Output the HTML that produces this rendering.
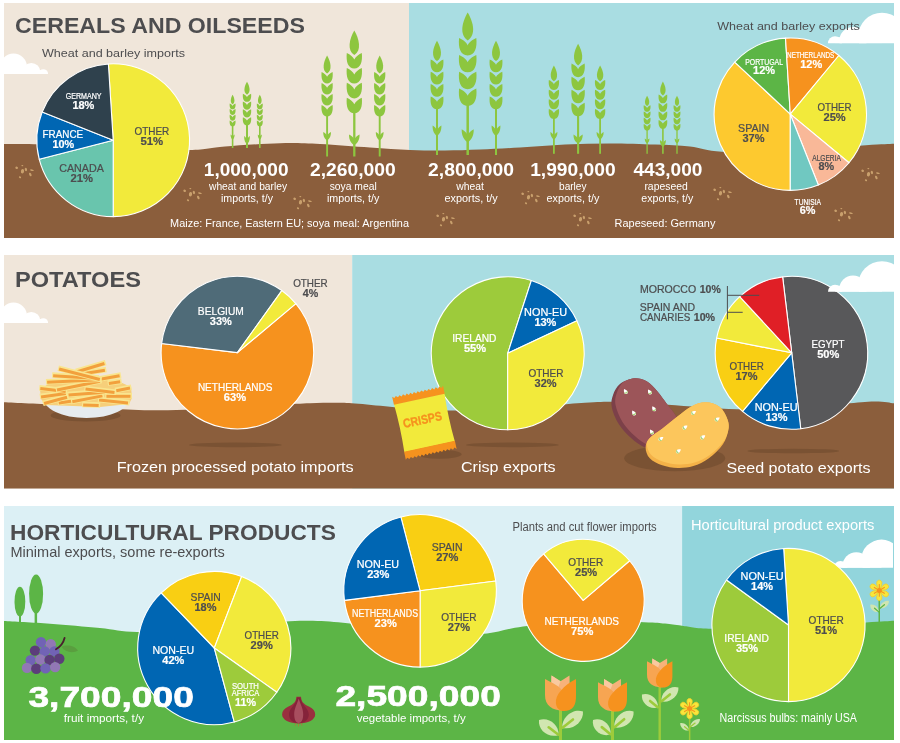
<!DOCTYPE html>
<html lang="en"><head><meta charset="utf-8"><title>Cereals, potatoes and horticultural products</title>
<style>html,body{margin:0;padding:0;background:#fff}svg{display:block;will-change:transform;transform:translateZ(0)}text{font-family:"Liberation Sans", Arial, sans-serif}</style></head><body>
<svg width="900" height="743" viewBox="0 0 900 743">
<rect width="900" height="743" fill="#fff"/>
<defs>
<clipPath id="p1"><rect x="4" y="3" width="890" height="235"/></clipPath>
<clipPath id="p2"><rect x="4" y="255" width="890" height="233.5"/></clipPath>
<clipPath id="p3"><rect x="4" y="506" width="890" height="234"/></clipPath>
</defs>
<g clip-path="url(#p1)">
<rect x="4" y="3" width="405" height="235" fill="#f0e6da"/>
<rect x="409" y="3" width="485" height="235" fill="#a9dde2"/>
<clipPath id="c1"><rect x="4" y="52.5" width="56" height="21.5"/></clipPath>
<g fill="#fff" clip-path="url(#c1)">
<circle cx="13.5" cy="67" r="13.5"/>
<circle cx="31.3" cy="72" r="9.1"/>
<circle cx="43.3" cy="74" r="4.8"/>
<rect x="13.5" y="70.2" width="29.8" height="3.8"/>
</g>
<clipPath id="c2"><rect x="820" y="11.7" width="74" height="31.5"/></clipPath>
<g fill="#fff" clip-path="url(#c2)">
<circle cx="882" cy="36.6" r="23.9"/>
<circle cx="853" cy="40.7" r="13.7"/>
<circle cx="835" cy="43.2" r="7"/>
<rect x="835.0" y="37.2" width="47.0" height="6.0"/>
</g>
<path d="M4.0,144.0 C10.0,144.1 22.3,143.7 40.0,144.3 C57.7,144.9 85.2,146.6 110.0,147.5 C134.8,148.4 169.8,150.2 189.0,150.0 C208.2,149.8 209.8,147.6 225.0,146.5 C240.2,145.4 264.2,143.6 280.0,143.2 C295.8,142.8 305.0,143.3 320.0,144.0 C335.0,144.7 355.0,146.5 370.0,147.5 C385.0,148.5 397.5,149.5 410.0,150.0 C422.5,150.5 433.3,150.6 445.0,150.5 C456.7,150.4 467.5,150.0 480.0,149.5 C492.5,149.0 505.8,148.3 520.0,147.5 C534.2,146.7 550.0,145.2 565.0,144.5 C580.0,143.8 595.0,143.5 610.0,143.5 C625.0,143.5 641.7,144.1 655.0,144.6 C668.3,145.1 678.8,145.4 690.0,146.6 C701.2,147.8 705.3,151.1 722.0,151.8 C738.7,152.5 766.0,152.1 790.0,151.0 C814.0,149.9 848.7,146.5 866.0,145.3 C883.3,144.1 889.3,144.1 894.0,143.8 L894,238 L4,238Z" fill="#8b5e3c"/>
<g fill="#8dc63f">
<rect x="231.80" y="124.3" width="1.60" height="23.7"/>
<path d="M232.60,94.70 C234.53,98.02 235.50,102.28 232.60,104.18 C229.70,102.28 230.67,98.02 232.60,94.70Z"/>
<path d="M229.70,103.39 C231.00,103.99 232.25,104.94 232.60,105.89 C232.95,104.94 234.19,103.99 235.50,103.39 C235.85,106.67 235.06,109.35 232.60,109.35 C230.13,109.35 229.35,106.67 229.70,103.39Z"/>
<path d="M229.70,109.12 C231.00,109.71 232.25,110.67 232.60,111.62 C232.95,110.67 234.19,109.71 235.50,109.12 C235.85,112.39 235.06,115.07 232.60,115.07 C230.13,115.07 229.35,112.39 229.70,109.12Z"/>
<path d="M229.70,114.84 C231.00,115.44 232.25,116.39 232.60,117.35 C232.95,116.39 234.19,115.44 235.50,114.84 C235.85,118.12 235.06,120.80 232.60,120.80 C230.13,120.80 229.35,118.12 229.70,114.84Z"/>
<path d="M229.70,120.57 C231.00,121.17 232.25,122.12 232.60,123.07 C232.95,122.12 234.19,121.17 235.50,120.57 C235.85,123.85 235.06,126.53 232.60,126.53 C230.13,126.53 229.35,123.85 229.70,120.57Z"/>
<path d="M230.57,134.60 C231.48,135.21 232.40,136.13 232.60,137.15 C232.80,136.13 233.72,135.21 234.63,134.60 C234.73,137.41 233.61,138.94 232.60,139.70 C231.59,138.94 230.47,137.41 230.57,134.60Z"/>
</g>
<g fill="#8dc63f">
<rect x="246.00" y="123.0" width="2.00" height="25.0"/>
<path d="M247.00,81.80 C249.73,86.34 251.10,92.17 247.00,94.76 C242.90,92.17 244.27,86.34 247.00,81.80Z"/>
<path d="M242.90,93.68 C244.75,94.49 246.51,95.80 247.00,97.10 C247.49,95.80 249.25,94.49 251.10,93.68 C251.59,98.16 250.49,101.82 247.00,101.82 C243.51,101.82 242.41,98.16 242.90,93.68Z"/>
<path d="M242.90,101.51 C244.75,102.32 246.51,103.63 247.00,104.93 C247.49,103.63 249.25,102.32 251.10,101.51 C251.59,105.99 250.49,109.65 247.00,109.65 C243.51,109.65 242.41,105.99 242.90,101.51Z"/>
<path d="M242.90,109.34 C244.75,110.15 246.51,111.46 247.00,112.76 C247.49,111.46 249.25,110.15 251.10,109.34 C251.59,113.82 250.49,117.48 247.00,117.48 C243.51,117.48 242.41,113.82 242.90,109.34Z"/>
<path d="M242.90,117.17 C244.75,117.98 246.51,119.29 247.00,120.59 C247.49,119.29 249.25,117.98 251.10,117.17 C251.59,121.65 250.49,125.31 247.00,125.31 C243.51,125.31 242.41,121.65 242.90,117.17Z"/>
<path d="M244.13,135.90 C245.42,136.90 246.71,138.39 247.00,140.05 C247.29,138.39 248.58,136.90 249.87,135.90 C250.01,140.47 248.44,142.95 247.00,144.20 C245.56,142.95 243.99,140.47 244.13,135.90Z"/>
</g>
<g fill="#8dc63f">
<rect x="259.00" y="124.3" width="1.60" height="23.7"/>
<path d="M259.80,94.70 C261.73,98.02 262.70,102.28 259.80,104.18 C256.90,102.28 257.87,98.02 259.80,94.70Z"/>
<path d="M256.90,103.39 C258.20,103.99 259.45,104.94 259.80,105.89 C260.15,104.94 261.40,103.99 262.70,103.39 C263.05,106.67 262.26,109.35 259.80,109.35 C257.34,109.35 256.55,106.67 256.90,103.39Z"/>
<path d="M256.90,109.12 C258.20,109.71 259.45,110.67 259.80,111.62 C260.15,110.67 261.40,109.71 262.70,109.12 C263.05,112.39 262.26,115.07 259.80,115.07 C257.34,115.07 256.55,112.39 256.90,109.12Z"/>
<path d="M256.90,114.84 C258.20,115.44 259.45,116.39 259.80,117.35 C260.15,116.39 261.40,115.44 262.70,114.84 C263.05,118.12 262.26,120.80 259.80,120.80 C257.34,120.80 256.55,118.12 256.90,114.84Z"/>
<path d="M256.90,120.57 C258.20,121.17 259.45,122.12 259.80,123.07 C260.15,122.12 261.40,121.17 262.70,120.57 C263.05,123.85 262.26,126.53 259.80,126.53 C257.34,126.53 256.55,123.85 256.90,120.57Z"/>
<path d="M257.77,134.60 C258.68,135.21 259.60,136.13 259.80,137.15 C260.00,136.13 260.92,135.21 261.83,134.60 C261.93,137.41 260.81,138.94 259.80,139.70 C258.79,138.94 257.67,137.41 257.77,134.60Z"/>
</g>
<g fill="#8dc63f">
<rect x="326.15" y="114.0" width="1.90" height="42.5"/>
<path d="M327.10,55.40 C330.76,61.76 332.59,69.94 327.10,73.58 C321.61,69.94 323.44,61.76 327.10,55.40Z"/>
<path d="M321.60,72.06 C324.08,73.21 326.44,75.04 327.10,76.86 C327.76,75.04 330.12,73.21 332.60,72.06 C333.26,78.35 331.78,83.49 327.10,83.49 C322.43,83.49 320.94,78.35 321.60,72.06Z"/>
<path d="M321.60,83.05 C324.08,84.19 326.44,86.02 327.10,87.85 C327.76,86.02 330.12,84.19 332.60,83.05 C333.26,89.33 331.78,94.47 327.10,94.47 C322.43,94.47 320.94,89.33 321.60,83.05Z"/>
<path d="M321.60,94.03 C324.08,95.17 326.44,97.00 327.10,98.83 C327.76,97.00 330.12,95.17 332.60,94.03 C333.26,100.32 331.78,105.46 327.10,105.46 C322.43,105.46 320.94,100.32 321.60,94.03Z"/>
<path d="M321.60,105.02 C324.08,106.16 326.44,107.99 327.10,109.81 C327.76,107.99 330.12,106.16 332.60,105.02 C333.26,111.30 331.78,116.44 327.10,116.44 C322.43,116.44 320.94,111.30 321.60,105.02Z"/>
<path d="M323.25,132.00 C324.98,133.02 326.72,134.55 327.10,136.25 C327.49,134.55 329.22,133.02 330.95,132.00 C331.14,136.68 329.03,139.22 327.10,140.50 C325.18,139.22 323.06,136.68 323.25,132.00Z"/>
</g>
<g fill="#8dc63f">
<rect x="353.15" y="110.7" width="2.30" height="45.8"/>
<path d="M354.30,30.40 C359.30,39.04 361.79,50.15 354.30,55.09 C346.81,50.15 349.31,39.04 354.30,30.40Z"/>
<path d="M346.80,53.03 C350.18,54.58 353.40,57.07 354.30,59.55 C355.20,57.07 358.43,54.58 361.80,53.03 C362.70,61.56 360.68,68.55 354.30,68.55 C347.93,68.55 345.90,61.56 346.80,53.03Z"/>
<path d="M346.80,67.95 C350.18,69.50 353.40,71.98 354.30,74.47 C355.20,71.98 358.43,69.50 361.80,67.95 C362.70,76.48 360.68,83.46 354.30,83.46 C347.93,83.46 345.90,76.48 346.80,67.95Z"/>
<path d="M346.80,82.87 C350.18,84.42 353.40,86.90 354.30,89.38 C355.20,86.90 358.43,84.42 361.80,82.87 C362.70,91.40 360.68,98.38 354.30,98.38 C347.93,98.38 345.90,91.40 346.80,82.87Z"/>
<path d="M346.80,97.78 C350.18,99.33 353.40,101.82 354.30,104.30 C355.20,101.82 358.43,99.33 361.80,97.78 C362.70,106.32 360.68,113.30 354.30,113.30 C347.93,113.30 345.90,106.32 346.80,97.78Z"/>
<path d="M349.05,134.50 C351.41,135.78 353.78,137.71 354.30,139.85 C354.82,137.71 357.19,135.78 359.55,134.50 C359.81,140.38 356.93,143.59 354.30,145.20 C351.68,143.59 348.79,140.38 349.05,134.50Z"/>
</g>
<g fill="#8dc63f">
<rect x="378.75" y="114.0" width="1.90" height="42.5"/>
<path d="M379.70,55.40 C383.36,61.76 385.19,69.94 379.70,73.58 C374.21,69.94 376.04,61.76 379.70,55.40Z"/>
<path d="M374.20,72.06 C376.68,73.21 379.04,75.04 379.70,76.86 C380.36,75.04 382.72,73.21 385.20,72.06 C385.86,78.35 384.38,83.49 379.70,83.49 C375.02,83.49 373.54,78.35 374.20,72.06Z"/>
<path d="M374.20,83.05 C376.68,84.19 379.04,86.02 379.70,87.85 C380.36,86.02 382.72,84.19 385.20,83.05 C385.86,89.33 384.38,94.47 379.70,94.47 C375.02,94.47 373.54,89.33 374.20,83.05Z"/>
<path d="M374.20,94.03 C376.68,95.17 379.04,97.00 379.70,98.83 C380.36,97.00 382.72,95.17 385.20,94.03 C385.86,100.32 384.38,105.46 379.70,105.46 C375.02,105.46 373.54,100.32 374.20,94.03Z"/>
<path d="M374.20,105.02 C376.68,106.16 379.04,107.99 379.70,109.81 C380.36,107.99 382.72,106.16 385.20,105.02 C385.86,111.30 384.38,116.44 379.70,116.44 C375.02,116.44 373.54,111.30 374.20,105.02Z"/>
<path d="M375.85,132.00 C377.58,133.02 379.31,134.55 379.70,136.25 C380.08,134.55 381.82,133.02 383.55,132.00 C383.74,136.68 381.62,139.22 379.70,140.50 C377.77,139.22 375.66,136.68 375.85,132.00Z"/>
</g>
<g fill="#8dc63f">
<rect x="436.00" y="106.7" width="2.00" height="48.3"/>
<path d="M437.00,40.70 C441.20,47.84 443.29,57.02 437.00,61.10 C430.71,57.02 432.80,47.84 437.00,40.70Z"/>
<path d="M430.70,59.40 C433.54,60.68 436.24,62.73 437.00,64.78 C437.76,62.73 440.46,60.68 443.30,59.40 C444.06,66.45 442.36,72.22 437.00,72.22 C431.64,72.22 429.94,66.45 430.70,59.40Z"/>
<path d="M430.70,71.73 C433.54,73.01 436.24,75.06 437.00,77.11 C437.76,75.06 440.46,73.01 443.30,71.73 C444.06,78.77 442.36,84.54 437.00,84.54 C431.64,84.54 429.94,78.77 430.70,71.73Z"/>
<path d="M430.70,84.05 C433.54,85.33 436.24,87.38 437.00,89.43 C437.76,87.38 440.46,85.33 443.30,84.05 C444.06,91.10 442.36,96.87 437.00,96.87 C431.64,96.87 429.94,91.10 430.70,84.05Z"/>
<path d="M430.70,96.38 C433.54,97.66 436.24,99.71 437.00,101.76 C437.76,99.71 440.46,97.66 443.30,96.38 C444.06,103.42 442.36,109.19 437.00,109.19 C431.64,109.19 429.94,103.42 430.70,96.38Z"/>
<path d="M432.59,125.40 C434.57,126.67 436.56,128.58 437.00,130.70 C437.44,128.58 439.43,126.67 441.41,125.40 C441.63,131.23 439.20,134.41 437.00,136.00 C434.80,134.41 432.37,131.23 432.59,125.40Z"/>
</g>
<g fill="#8dc63f">
<rect x="466.45" y="103.3" width="2.50" height="51.7"/>
<path d="M467.70,12.60 C473.43,22.33 476.29,34.85 467.70,40.41 C459.11,34.85 461.97,22.33 467.70,12.60Z"/>
<path d="M459.10,38.09 C462.97,39.84 466.67,42.64 467.70,45.43 C468.73,42.64 472.43,39.84 476.30,38.09 C477.33,47.70 475.01,55.57 467.70,55.57 C460.39,55.57 458.07,47.70 459.10,38.09Z"/>
<path d="M459.10,54.89 C462.97,56.64 466.67,59.44 467.70,62.23 C468.73,59.44 472.43,56.64 476.30,54.89 C477.33,64.51 475.01,72.37 467.70,72.37 C460.39,72.37 458.07,64.51 459.10,54.89Z"/>
<path d="M459.10,71.70 C462.97,73.44 466.67,76.24 467.70,79.04 C468.73,76.24 472.43,73.44 476.30,71.70 C477.33,81.31 475.01,89.17 467.70,89.17 C460.39,89.17 458.07,81.31 459.10,71.70Z"/>
<path d="M459.10,88.50 C462.97,90.25 466.67,93.04 467.70,95.84 C468.73,93.04 472.43,90.25 476.30,88.50 C477.33,98.11 475.01,105.97 467.70,105.97 C460.39,105.97 458.07,98.11 459.10,88.50Z"/>
<path d="M461.68,129.30 C464.39,130.86 467.10,133.20 467.70,135.80 C468.30,133.20 471.01,130.86 473.72,129.30 C474.02,136.45 470.71,140.35 467.70,142.30 C464.69,140.35 461.38,136.45 461.68,129.30Z"/>
</g>
<g fill="#8dc63f">
<rect x="495.00" y="106.7" width="2.00" height="48.3"/>
<path d="M496.00,40.70 C500.20,47.84 502.29,57.02 496.00,61.10 C489.71,57.02 491.80,47.84 496.00,40.70Z"/>
<path d="M489.70,59.40 C492.54,60.68 495.24,62.73 496.00,64.78 C496.76,62.73 499.46,60.68 502.30,59.40 C503.06,66.45 501.36,72.22 496.00,72.22 C490.64,72.22 488.94,66.45 489.70,59.40Z"/>
<path d="M489.70,71.73 C492.54,73.01 495.24,75.06 496.00,77.11 C496.76,75.06 499.46,73.01 502.30,71.73 C503.06,78.77 501.36,84.54 496.00,84.54 C490.64,84.54 488.94,78.77 489.70,71.73Z"/>
<path d="M489.70,84.05 C492.54,85.33 495.24,87.38 496.00,89.43 C496.76,87.38 499.46,85.33 502.30,84.05 C503.06,91.10 501.36,96.87 496.00,96.87 C490.64,96.87 488.94,91.10 489.70,84.05Z"/>
<path d="M489.70,96.38 C492.54,97.66 495.24,99.71 496.00,101.76 C496.76,99.71 499.46,97.66 502.30,96.38 C503.06,103.42 501.36,109.19 496.00,109.19 C490.64,109.19 488.94,103.42 489.70,96.38Z"/>
<path d="M491.59,125.40 C493.57,126.67 495.56,128.58 496.00,130.70 C496.44,128.58 498.43,126.67 500.41,125.40 C500.63,131.23 498.20,134.41 496.00,136.00 C493.80,134.41 491.37,131.23 491.59,125.40Z"/>
</g>
<g fill="#8dc63f">
<rect x="553.00" y="116.5" width="1.80" height="37.3"/>
<path d="M553.90,65.40 C557.26,70.98 558.94,78.14 553.90,81.33 C548.86,78.14 550.54,70.98 553.90,65.40Z"/>
<path d="M548.85,80.00 C551.12,81.00 553.29,82.60 553.90,84.21 C554.51,82.60 556.68,81.00 558.95,80.00 C559.56,85.51 558.19,90.01 553.90,90.01 C549.61,90.01 548.24,85.51 548.85,80.00Z"/>
<path d="M548.85,89.63 C551.12,90.63 553.29,92.23 553.90,93.83 C554.51,92.23 556.68,90.63 558.95,89.63 C559.56,95.13 558.19,99.64 553.90,99.64 C549.61,99.64 548.24,95.13 548.85,89.63Z"/>
<path d="M548.85,99.25 C551.12,100.25 553.29,101.85 553.90,103.46 C554.51,101.85 556.68,100.25 558.95,99.25 C559.56,104.76 558.19,109.26 553.90,109.26 C549.61,109.26 548.24,104.76 548.85,99.25Z"/>
<path d="M548.85,108.88 C551.12,109.88 553.29,111.48 553.90,113.08 C554.51,111.48 556.68,109.88 558.95,108.88 C559.56,114.38 558.19,118.88 553.90,118.88 C549.61,118.88 548.24,114.38 548.85,108.88Z"/>
<path d="M550.37,132.00 C551.96,132.90 553.55,134.25 553.90,135.75 C554.25,134.25 555.84,132.90 557.43,132.00 C557.61,136.12 555.67,138.38 553.90,139.50 C552.13,138.38 550.19,136.12 550.37,132.00Z"/>
</g>
<g fill="#8dc63f">
<rect x="577.05" y="113.8" width="2.10" height="40.0"/>
<path d="M578.10,43.80 C582.46,51.36 584.64,61.08 578.10,65.40 C571.56,61.08 573.74,51.36 578.10,43.80Z"/>
<path d="M571.55,63.60 C574.50,64.96 577.31,67.13 578.10,69.30 C578.89,67.13 581.70,64.96 584.65,63.60 C585.44,71.06 583.67,77.17 578.10,77.17 C572.53,77.17 570.76,71.06 571.55,63.60Z"/>
<path d="M571.55,76.65 C574.50,78.01 577.31,80.18 578.10,82.35 C578.89,80.18 581.70,78.01 584.65,76.65 C585.44,84.11 583.67,90.22 578.10,90.22 C572.53,90.22 570.76,84.11 571.55,76.65Z"/>
<path d="M571.55,89.70 C574.50,91.06 577.31,93.23 578.10,95.40 C578.89,93.23 581.70,91.06 584.65,89.70 C585.44,97.16 583.67,103.27 578.10,103.27 C572.53,103.27 570.76,97.16 571.55,89.70Z"/>
<path d="M571.55,102.75 C574.50,104.11 577.31,106.28 578.10,108.45 C578.89,106.28 581.70,104.11 584.65,102.75 C585.44,110.21 583.67,116.32 578.10,116.32 C572.53,116.32 570.76,110.21 571.55,102.75Z"/>
<path d="M573.51,134.40 C575.58,135.49 577.64,137.13 578.10,138.95 C578.56,137.13 580.62,135.49 582.69,134.40 C582.91,139.41 580.39,142.13 578.10,143.50 C575.81,142.13 573.29,139.41 573.51,134.40Z"/>
</g>
<g fill="#8dc63f">
<rect x="599.20" y="116.5" width="1.80" height="37.3"/>
<path d="M600.10,65.40 C603.46,70.98 605.14,78.14 600.10,81.33 C595.06,78.14 596.74,70.98 600.10,65.40Z"/>
<path d="M595.05,80.00 C597.32,81.00 599.49,82.60 600.10,84.21 C600.71,82.60 602.88,81.00 605.15,80.00 C605.76,85.51 604.39,90.01 600.10,90.01 C595.81,90.01 594.44,85.51 595.05,80.00Z"/>
<path d="M595.05,89.63 C597.32,90.63 599.49,92.23 600.10,93.83 C600.71,92.23 602.88,90.63 605.15,89.63 C605.76,95.13 604.39,99.64 600.10,99.64 C595.81,99.64 594.44,95.13 595.05,89.63Z"/>
<path d="M595.05,99.25 C597.32,100.25 599.49,101.85 600.10,103.46 C600.71,101.85 602.88,100.25 605.15,99.25 C605.76,104.76 604.39,109.26 600.10,109.26 C595.81,109.26 594.44,104.76 595.05,99.25Z"/>
<path d="M595.05,108.88 C597.32,109.88 599.49,111.48 600.10,113.08 C600.71,111.48 602.88,109.88 605.15,108.88 C605.76,114.38 604.39,118.88 600.10,118.88 C595.81,118.88 594.44,114.38 595.05,108.88Z"/>
<path d="M596.57,132.00 C598.16,132.90 599.75,134.25 600.10,135.75 C600.45,134.25 602.04,132.90 603.63,132.00 C603.81,136.12 601.87,138.38 600.10,139.50 C598.33,138.38 596.39,136.12 596.57,132.00Z"/>
</g>
<g fill="#8dc63f">
<rect x="646.45" y="128.4" width="1.30" height="25.4"/>
<path d="M647.10,95.70 C649.33,99.34 650.45,104.03 647.10,106.11 C643.75,104.03 644.87,99.34 647.10,95.70Z"/>
<path d="M643.75,105.24 C645.26,105.90 646.70,106.94 647.10,107.99 C647.50,106.94 648.94,105.90 650.45,105.24 C650.85,108.84 649.95,111.78 647.10,111.78 C644.25,111.78 643.35,108.84 643.75,105.24Z"/>
<path d="M643.75,111.53 C645.26,112.19 646.70,113.23 647.10,114.28 C647.50,113.23 648.94,112.19 650.45,111.53 C650.85,115.13 649.95,118.07 647.10,118.07 C644.25,118.07 643.35,115.13 643.75,111.53Z"/>
<path d="M643.75,117.82 C645.26,118.48 646.70,119.52 647.10,120.57 C647.50,119.52 648.94,118.48 650.45,117.82 C650.85,121.42 649.95,124.36 647.10,124.36 C644.25,124.36 643.35,121.42 643.75,117.82Z"/>
<path d="M643.75,124.11 C645.26,124.76 646.70,125.81 647.10,126.86 C647.50,125.81 648.94,124.76 650.45,124.11 C650.85,127.71 649.95,130.65 647.10,130.65 C644.25,130.65 643.35,127.71 643.75,124.11Z"/>
<path d="M644.75,138.60 C645.81,139.19 646.87,140.07 647.10,141.05 C647.33,140.07 648.39,139.19 649.45,138.60 C649.56,141.29 648.27,142.76 647.10,143.50 C645.93,142.76 644.64,141.29 644.75,138.60Z"/>
</g>
<g fill="#8dc63f">
<rect x="662.10" y="126.4" width="1.60" height="27.4"/>
<path d="M662.90,81.50 C665.73,86.42 667.15,92.76 662.90,95.57 C658.65,92.76 660.07,86.42 662.90,81.50Z"/>
<path d="M658.65,94.40 C660.56,95.28 662.39,96.70 662.90,98.11 C663.41,96.70 665.24,95.28 667.15,94.40 C667.66,99.26 666.51,103.24 662.90,103.24 C659.29,103.24 658.14,99.26 658.65,94.40Z"/>
<path d="M658.65,102.90 C660.56,103.78 662.39,105.20 662.90,106.61 C663.41,105.20 665.24,103.78 667.15,102.90 C667.66,107.76 666.51,111.74 662.90,111.74 C659.29,111.74 658.14,107.76 658.65,102.90Z"/>
<path d="M658.65,111.40 C660.56,112.28 662.39,113.70 662.90,115.11 C663.41,113.70 665.24,112.28 667.15,111.40 C667.66,116.26 666.51,120.24 662.90,120.24 C659.29,120.24 658.14,116.26 658.65,111.40Z"/>
<path d="M658.65,119.90 C660.56,120.78 662.39,122.20 662.90,123.61 C663.41,122.20 665.24,120.78 667.15,119.90 C667.66,124.76 666.51,128.74 662.90,128.74 C659.29,128.74 658.14,124.76 658.65,119.90Z"/>
<path d="M659.92,140.00 C661.26,140.84 662.60,142.10 662.90,143.50 C663.20,142.10 664.54,140.84 665.88,140.00 C666.02,143.85 664.39,145.95 662.90,147.00 C661.41,145.95 659.78,143.85 659.92,140.00Z"/>
</g>
<g fill="#8dc63f">
<rect x="676.35" y="128.4" width="1.30" height="25.4"/>
<path d="M677.00,95.70 C679.23,99.34 680.35,104.03 677.00,106.11 C673.65,104.03 674.77,99.34 677.00,95.70Z"/>
<path d="M673.65,105.24 C675.16,105.90 676.60,106.94 677.00,107.99 C677.40,106.94 678.84,105.90 680.35,105.24 C680.75,108.84 679.85,111.78 677.00,111.78 C674.15,111.78 673.25,108.84 673.65,105.24Z"/>
<path d="M673.65,111.53 C675.16,112.19 676.60,113.23 677.00,114.28 C677.40,113.23 678.84,112.19 680.35,111.53 C680.75,115.13 679.85,118.07 677.00,118.07 C674.15,118.07 673.25,115.13 673.65,111.53Z"/>
<path d="M673.65,117.82 C675.16,118.48 676.60,119.52 677.00,120.57 C677.40,119.52 678.84,118.48 680.35,117.82 C680.75,121.42 679.85,124.36 677.00,124.36 C674.15,124.36 673.25,121.42 673.65,117.82Z"/>
<path d="M673.65,124.11 C675.16,124.76 676.60,125.81 677.00,126.86 C677.40,125.81 678.84,124.76 680.35,124.11 C680.75,127.71 679.85,130.65 677.00,130.65 C674.15,130.65 673.25,127.71 673.65,124.11Z"/>
<path d="M674.65,138.60 C675.71,139.19 676.77,140.07 677.00,141.05 C677.23,140.07 678.29,139.19 679.35,138.60 C679.46,141.29 678.17,142.76 677.00,143.50 C675.83,142.76 674.54,141.29 674.65,138.60Z"/>
</g>
<g fill="#c9a06d">
<ellipse cx="16.7" cy="167.8" rx="1.4" ry="1.2" transform="rotate(20 16.7 167.8)"/>
<ellipse cx="22.3" cy="165.6" rx="1.0" ry="0.7" transform="rotate(0 22.3 165.6)"/>
<ellipse cx="22.5" cy="171.2" rx="1.6" ry="2.3" transform="rotate(10 22.5 171.2)"/>
<ellipse cx="25.9" cy="169.5" rx="1.1" ry="1.7" transform="rotate(-20 25.9 169.5)"/>
<ellipse cx="31.9" cy="170.2" rx="1.9" ry="0.8" transform="rotate(10 31.9 170.2)"/>
<ellipse cx="30.3" cy="174.5" rx="1.1" ry="1.9" transform="rotate(-25 30.3 174.5)"/>
<ellipse cx="20.0" cy="177.2" rx="1.2" ry="0.9" transform="rotate(35 20.0 177.2)"/>
<ellipse cx="184.7" cy="190.8" rx="1.4" ry="1.2" transform="rotate(20 184.7 190.8)"/>
<ellipse cx="190.3" cy="188.6" rx="1.0" ry="0.7" transform="rotate(0 190.3 188.6)"/>
<ellipse cx="190.5" cy="194.2" rx="1.6" ry="2.3" transform="rotate(10 190.5 194.2)"/>
<ellipse cx="193.9" cy="192.5" rx="1.1" ry="1.7" transform="rotate(-20 193.9 192.5)"/>
<ellipse cx="199.9" cy="193.2" rx="1.9" ry="0.8" transform="rotate(10 199.9 193.2)"/>
<ellipse cx="198.3" cy="197.5" rx="1.1" ry="1.9" transform="rotate(-25 198.3 197.5)"/>
<ellipse cx="188.0" cy="200.2" rx="1.2" ry="0.9" transform="rotate(35 188.0 200.2)"/>
<ellipse cx="294.7" cy="198.8" rx="1.4" ry="1.2" transform="rotate(20 294.7 198.8)"/>
<ellipse cx="300.3" cy="196.6" rx="1.0" ry="0.7" transform="rotate(0 300.3 196.6)"/>
<ellipse cx="300.5" cy="202.2" rx="1.6" ry="2.3" transform="rotate(10 300.5 202.2)"/>
<ellipse cx="303.9" cy="200.5" rx="1.1" ry="1.7" transform="rotate(-20 303.9 200.5)"/>
<ellipse cx="309.9" cy="201.2" rx="1.9" ry="0.8" transform="rotate(10 309.9 201.2)"/>
<ellipse cx="308.3" cy="205.5" rx="1.1" ry="1.9" transform="rotate(-25 308.3 205.5)"/>
<ellipse cx="298.0" cy="208.2" rx="1.2" ry="0.9" transform="rotate(35 298.0 208.2)"/>
<ellipse cx="437.7" cy="215.8" rx="1.4" ry="1.2" transform="rotate(20 437.7 215.8)"/>
<ellipse cx="443.3" cy="213.6" rx="1.0" ry="0.7" transform="rotate(0 443.3 213.6)"/>
<ellipse cx="443.5" cy="219.2" rx="1.6" ry="2.3" transform="rotate(10 443.5 219.2)"/>
<ellipse cx="446.9" cy="217.5" rx="1.1" ry="1.7" transform="rotate(-20 446.9 217.5)"/>
<ellipse cx="452.9" cy="218.2" rx="1.9" ry="0.8" transform="rotate(10 452.9 218.2)"/>
<ellipse cx="451.3" cy="222.5" rx="1.1" ry="1.9" transform="rotate(-25 451.3 222.5)"/>
<ellipse cx="441.0" cy="225.2" rx="1.2" ry="0.9" transform="rotate(35 441.0 225.2)"/>
<ellipse cx="522.7" cy="193.8" rx="1.4" ry="1.2" transform="rotate(20 522.7 193.8)"/>
<ellipse cx="528.3" cy="191.6" rx="1.0" ry="0.7" transform="rotate(0 528.3 191.6)"/>
<ellipse cx="528.5" cy="197.2" rx="1.6" ry="2.3" transform="rotate(10 528.5 197.2)"/>
<ellipse cx="531.9" cy="195.5" rx="1.1" ry="1.7" transform="rotate(-20 531.9 195.5)"/>
<ellipse cx="537.9" cy="196.2" rx="1.9" ry="0.8" transform="rotate(10 537.9 196.2)"/>
<ellipse cx="536.3" cy="200.5" rx="1.1" ry="1.9" transform="rotate(-25 536.3 200.5)"/>
<ellipse cx="526.0" cy="203.2" rx="1.2" ry="0.9" transform="rotate(35 526.0 203.2)"/>
<ellipse cx="574.7" cy="215.8" rx="1.4" ry="1.2" transform="rotate(20 574.7 215.8)"/>
<ellipse cx="580.3" cy="213.6" rx="1.0" ry="0.7" transform="rotate(0 580.3 213.6)"/>
<ellipse cx="580.5" cy="219.2" rx="1.6" ry="2.3" transform="rotate(10 580.5 219.2)"/>
<ellipse cx="583.9" cy="217.5" rx="1.1" ry="1.7" transform="rotate(-20 583.9 217.5)"/>
<ellipse cx="589.9" cy="218.2" rx="1.9" ry="0.8" transform="rotate(10 589.9 218.2)"/>
<ellipse cx="588.3" cy="222.5" rx="1.1" ry="1.9" transform="rotate(-25 588.3 222.5)"/>
<ellipse cx="578.0" cy="225.2" rx="1.2" ry="0.9" transform="rotate(35 578.0 225.2)"/>
<ellipse cx="714.7" cy="189.8" rx="1.4" ry="1.2" transform="rotate(20 714.7 189.8)"/>
<ellipse cx="720.3" cy="187.6" rx="1.0" ry="0.7" transform="rotate(0 720.3 187.6)"/>
<ellipse cx="720.5" cy="193.2" rx="1.6" ry="2.3" transform="rotate(10 720.5 193.2)"/>
<ellipse cx="723.9" cy="191.5" rx="1.1" ry="1.7" transform="rotate(-20 723.9 191.5)"/>
<ellipse cx="729.9" cy="192.2" rx="1.9" ry="0.8" transform="rotate(10 729.9 192.2)"/>
<ellipse cx="728.3" cy="196.5" rx="1.1" ry="1.9" transform="rotate(-25 728.3 196.5)"/>
<ellipse cx="718.0" cy="199.2" rx="1.2" ry="0.9" transform="rotate(35 718.0 199.2)"/>
<ellipse cx="862.7" cy="170.8" rx="1.4" ry="1.2" transform="rotate(20 862.7 170.8)"/>
<ellipse cx="868.3" cy="168.6" rx="1.0" ry="0.7" transform="rotate(0 868.3 168.6)"/>
<ellipse cx="868.5" cy="174.2" rx="1.6" ry="2.3" transform="rotate(10 868.5 174.2)"/>
<ellipse cx="871.9" cy="172.5" rx="1.1" ry="1.7" transform="rotate(-20 871.9 172.5)"/>
<ellipse cx="877.9" cy="173.2" rx="1.9" ry="0.8" transform="rotate(10 877.9 173.2)"/>
<ellipse cx="876.3" cy="177.5" rx="1.1" ry="1.9" transform="rotate(-25 876.3 177.5)"/>
<ellipse cx="866.0" cy="180.2" rx="1.2" ry="0.9" transform="rotate(35 866.0 180.2)"/>
<ellipse cx="835.7" cy="210.8" rx="1.4" ry="1.2" transform="rotate(20 835.7 210.8)"/>
<ellipse cx="841.3" cy="208.6" rx="1.0" ry="0.7" transform="rotate(0 841.3 208.6)"/>
<ellipse cx="841.5" cy="214.2" rx="1.6" ry="2.3" transform="rotate(10 841.5 214.2)"/>
<ellipse cx="844.9" cy="212.5" rx="1.1" ry="1.7" transform="rotate(-20 844.9 212.5)"/>
<ellipse cx="850.9" cy="213.2" rx="1.9" ry="0.8" transform="rotate(10 850.9 213.2)"/>
<ellipse cx="849.3" cy="217.5" rx="1.1" ry="1.9" transform="rotate(-25 849.3 217.5)"/>
<ellipse cx="839.0" cy="220.2" rx="1.2" ry="0.9" transform="rotate(35 839.0 220.2)"/>
</g>
<g stroke="#fff" stroke-width="1.1" stroke-linejoin="round">
<path d="M113.20,140.20L108.40,63.95A76.4,76.4 0 1 1 113.20,216.60Z" fill="#f2ea3b"/>
<path d="M113.20,140.20L113.20,216.60A76.4,76.4 0 0 1 39.20,159.20Z" fill="#69c5ad"/>
<path d="M113.20,140.20L39.20,159.20A76.4,76.4 0 0 1 42.17,112.08Z" fill="#0066b3"/>
<path d="M113.20,140.20L42.17,112.08A76.4,76.4 0 0 1 108.40,63.95Z" fill="#2f414d"/>
</g>
<g stroke="#fff" stroke-width="1.1" stroke-linejoin="round">
<path d="M790.30,114.20L790.30,190.40A76.2,76.2 0 0 1 734.75,62.04Z" fill="#fdc92f"/>
<path d="M790.30,114.20L734.75,62.04A76.2,76.2 0 0 1 785.52,38.15Z" fill="#5cb546"/>
<path d="M790.30,114.20L785.52,38.15A76.2,76.2 0 0 1 838.87,55.49Z" fill="#f6921e"/>
<path d="M790.30,114.20L838.87,55.49A76.2,76.2 0 0 1 849.01,162.77Z" fill="#f2ea3b"/>
<path d="M790.30,114.20L849.01,162.77A76.2,76.2 0 0 1 818.35,185.05Z" fill="#f9b898"/>
<path d="M790.30,114.20L818.35,185.05A76.2,76.2 0 0 1 790.30,190.40Z" fill="#70c8c1"/>
</g>
<text x="15.05" y="32.5" font-size="22" fill="#4d4d4f" font-weight="700" textLength="289.85" lengthAdjust="spacingAndGlyphs">CEREALS AND OILSEEDS</text>
<text x="41.94" y="57.0" font-size="11" fill="#4d4d4f" textLength="143.01" lengthAdjust="spacingAndGlyphs">Wheat and barley imports</text>
<text x="717.25" y="30.0" font-size="11" fill="#4d4d4f" textLength="142.61" lengthAdjust="spacingAndGlyphs">Wheat and barley exports</text>
<text x="134.43" y="134.8" font-size="10.5" fill="#4d4d4f" textLength="34.83" lengthAdjust="spacingAndGlyphs" stroke="#4d4d4f" stroke-width="0.22">OTHER</text>
<text x="140.45" y="144.9" font-size="10" fill="#4d4d4f" font-weight="700" textLength="22.75" lengthAdjust="spacingAndGlyphs" stroke="#4d4d4f" stroke-width="0.18">51%</text>
<text x="65.64" y="99.0" font-size="8.8" fill="#fff" textLength="35.91" lengthAdjust="spacingAndGlyphs" stroke="#fff" stroke-width="0.22">GERMANY</text>
<text x="72.41" y="108.8" font-size="10" fill="#fff" font-weight="700" textLength="21.98" lengthAdjust="spacingAndGlyphs" stroke="#fff" stroke-width="0.18">18%</text>
<text x="42.59" y="137.6" font-size="10.5" fill="#fff" textLength="40.64" lengthAdjust="spacingAndGlyphs" stroke="#fff" stroke-width="0.22">FRANCE</text>
<text x="52.52" y="147.7" font-size="10" fill="#fff" font-weight="700" textLength="21.67" lengthAdjust="spacingAndGlyphs" stroke="#fff" stroke-width="0.18">10%</text>
<text x="59.26" y="171.6" font-size="10.5" fill="#4d4d4f" textLength="44.56" lengthAdjust="spacingAndGlyphs" stroke="#4d4d4f" stroke-width="0.22">CANADA</text>
<text x="70.41" y="181.7" font-size="10" fill="#4d4d4f" font-weight="700" textLength="22.49" lengthAdjust="spacingAndGlyphs" stroke="#4d4d4f" stroke-width="0.18">21%</text>
<text x="745.24" y="65.0" font-size="8.8" fill="#fff" textLength="37.79" lengthAdjust="spacingAndGlyphs" stroke="#fff" stroke-width="0.22">PORTUGAL</text>
<text x="753.11" y="74.4" font-size="10" fill="#fff" font-weight="700" textLength="21.98" lengthAdjust="spacingAndGlyphs" stroke="#fff" stroke-width="0.18">12%</text>
<text x="787.08" y="58.0" font-size="8.8" fill="#fff" textLength="47.21" lengthAdjust="spacingAndGlyphs" stroke="#fff" stroke-width="0.22">NETHERLANDS</text>
<text x="800.21" y="67.9" font-size="10" fill="#fff" font-weight="700" textLength="21.98" lengthAdjust="spacingAndGlyphs" stroke="#fff" stroke-width="0.18">12%</text>
<text x="817.44" y="110.6" font-size="10.5" fill="#4d4d4f" textLength="34.01" lengthAdjust="spacingAndGlyphs" stroke="#4d4d4f" stroke-width="0.22">OTHER</text>
<text x="823.47" y="120.9" font-size="10" fill="#4d4d4f" font-weight="700" textLength="22.18" lengthAdjust="spacingAndGlyphs" stroke="#4d4d4f" stroke-width="0.18">25%</text>
<text x="738.13" y="131.7" font-size="10.5" fill="#4d4d4f" textLength="31.12" lengthAdjust="spacingAndGlyphs" stroke="#4d4d4f" stroke-width="0.22">SPAIN</text>
<text x="742.50" y="141.6" font-size="10" fill="#4d4d4f" font-weight="700" textLength="22.04" lengthAdjust="spacingAndGlyphs" stroke="#4d4d4f" stroke-width="0.18">37%</text>
<text x="812.29" y="160.8" font-size="8.8" fill="#4d4d4f" textLength="28.53" lengthAdjust="spacingAndGlyphs" stroke="#4d4d4f" stroke-width="0.22">ALGERIA</text>
<text x="818.46" y="170.4" font-size="10" fill="#4d4d4f" font-weight="700" textLength="15.63" lengthAdjust="spacingAndGlyphs" stroke="#4d4d4f" stroke-width="0.18">8%</text>
<text x="794.55" y="205.1" font-size="8.8" fill="#fff" textLength="26.46" lengthAdjust="spacingAndGlyphs" stroke="#fff" stroke-width="0.22">TUNISIA</text>
<text x="799.80" y="214.4" font-size="10" fill="#fff" font-weight="700" textLength="15.68" lengthAdjust="spacingAndGlyphs" stroke="#fff" stroke-width="0.18">6%</text>
<text x="203.80" y="175.9" font-size="19.2" fill="#fff" font-weight="700" textLength="84.68" lengthAdjust="spacingAndGlyphs">1,000,000</text>
<text x="310.03" y="175.9" font-size="19.2" fill="#fff" font-weight="700" textLength="85.76" lengthAdjust="spacingAndGlyphs">2,260,000</text>
<text x="428.13" y="175.9" font-size="19.2" fill="#fff" font-weight="700" textLength="85.86" lengthAdjust="spacingAndGlyphs">2,800,000</text>
<text x="530.19" y="175.9" font-size="19.2" fill="#fff" font-weight="700" textLength="85.40" lengthAdjust="spacingAndGlyphs">1,990,000</text>
<text x="633.41" y="175.9" font-size="19.2" fill="#fff" font-weight="700" textLength="68.97" lengthAdjust="spacingAndGlyphs">443,000</text>
<text x="209.02" y="190.0" font-size="11" fill="#fff" textLength="78.01" lengthAdjust="spacingAndGlyphs">wheat and barley</text>
<text x="220.99" y="201.7" font-size="11" fill="#fff" textLength="52.03" lengthAdjust="spacingAndGlyphs">imports, t/y</text>
<text x="329.71" y="190.0" font-size="11" fill="#fff" textLength="46.98" lengthAdjust="spacingAndGlyphs">soya meal</text>
<text x="326.98" y="201.7" font-size="11" fill="#fff" textLength="52.34" lengthAdjust="spacingAndGlyphs">imports, t/y</text>
<text x="456.32" y="190.0" font-size="11" fill="#fff" textLength="27.66" lengthAdjust="spacingAndGlyphs">wheat</text>
<text x="444.54" y="201.7" font-size="11" fill="#fff" textLength="53.18" lengthAdjust="spacingAndGlyphs">exports, t/y</text>
<text x="559.05" y="190.0" font-size="11" fill="#fff" textLength="27.47" lengthAdjust="spacingAndGlyphs">barley</text>
<text x="546.54" y="201.7" font-size="11" fill="#fff" textLength="52.78" lengthAdjust="spacingAndGlyphs">exports, t/y</text>
<text x="644.41" y="190.0" font-size="11" fill="#fff" textLength="43.36" lengthAdjust="spacingAndGlyphs">rapeseed</text>
<text x="641.25" y="201.7" font-size="11" fill="#fff" textLength="52.07" lengthAdjust="spacingAndGlyphs">exports, t/y</text>
<text x="170.11" y="227.3" font-size="11.5" fill="#fff" textLength="238.89" lengthAdjust="spacingAndGlyphs">Maize: France, Eastern EU; soya meal: Argentina</text>
<text x="614.60" y="227.3" font-size="11.5" fill="#fff" textLength="100.82" lengthAdjust="spacingAndGlyphs">Rapeseed: Germany</text>
</g>
<g clip-path="url(#p2)">
<rect x="4" y="255" width="348.2" height="234" fill="#f0e6da"/>
<rect x="352.2" y="255" width="541.8" height="234" fill="#a9dde2"/>
<clipPath id="c3"><rect x="4" y="301.5" width="56" height="21.5"/></clipPath>
<g fill="#fff" clip-path="url(#c3)">
<circle cx="13.5" cy="316" r="13.5"/>
<circle cx="31.3" cy="321" r="9.1"/>
<circle cx="43.3" cy="323" r="4.8"/>
<rect x="13.5" y="319.2" width="29.8" height="3.8"/>
</g>
<path d="M4.0,402.3 C13.3,402.8 42.3,404.0 60.0,405.0 C77.7,406.0 93.3,407.6 110.0,408.5 C126.7,409.4 140.0,410.4 160.0,410.3 C180.0,410.2 210.0,408.9 230.0,408.0 C250.0,407.1 266.7,405.6 280.0,404.8 C293.3,404.0 300.8,403.5 310.0,403.2 C319.2,402.9 327.5,402.8 335.0,402.8 C342.5,402.8 345.8,402.8 355.0,403.4 C364.2,404.0 377.5,405.5 390.0,406.7 C402.5,407.9 411.7,409.8 430.0,410.3 C448.3,410.8 474.2,410.8 500.0,409.5 C525.8,408.2 564.2,404.1 585.0,402.8 C605.8,401.6 611.2,401.7 625.0,402.0 C638.8,402.3 649.3,403.5 668.0,404.7 C686.7,405.9 715.0,408.8 737.0,409.3 C759.0,409.9 778.2,409.3 800.0,408.0 C821.8,406.7 852.3,402.5 868.0,401.7 C883.7,400.9 889.7,403.0 894.0,403.3 L894,489 L4,489Z" fill="#8b5e3c"/>
<g fill="#7a5233">
<ellipse cx="85.6" cy="415.4" rx="35" ry="6"/>
<ellipse cx="235.4" cy="444.9" rx="46.5" ry="2.3"/>
<ellipse cx="512.4" cy="444.9" rx="46.5" ry="2.3"/>
<ellipse cx="793.3" cy="451" rx="46" ry="2.3"/>
<ellipse cx="674.7" cy="458.3" rx="50.5" ry="13"/>
<ellipse cx="439.5" cy="454.3" rx="22" ry="4.5"/>
</g>
<path d="M40.4,394.6 C44,410 62,418 86.5,418 C111,418 129,410 132.7,394.6Z" fill="#e6ebee"/>
<path d="M40.4,394.6 C60,399 112,399 132.7,394.6 C112,403 60,403 40.4,394.6Z" fill="#fff"/>
<path d="M44.5,393.2 h4.5 v1.3 h-4.5z M127,393.2 h4.5 v1.3 h-4.5z" fill="#6d7b85"/>
<path d="M41,399 L40,390 L48,384 L60,380 L100,379 L120,382 L131,387 L132,398 L129,404 L100,407 L46,405Z" fill="#f6cf7a"/>
<g transform="translate(82.6 404.4) rotate(2.0)"><rect x="-0.5" y="-2.8" width="18.1" height="5.6" fill="#f9e58f"/><rect x="0.6" y="-1.0" width="15.5" height="3.0" fill="#f2a03d"/></g>
<g transform="translate(58.1 402.6) rotate(-8.2)"><rect x="-0.5" y="-2.8" width="27.0" height="5.6" fill="#f9e58f"/><rect x="0.6" y="-1.0" width="24.4" height="3.0" fill="#f2a03d"/></g>
<g transform="translate(98.5 399.5) rotate(5.8)"><rect x="-0.5" y="-2.8" width="31.7" height="5.6" fill="#f9e58f"/><rect x="0.6" y="-1.0" width="29.1" height="3.0" fill="#f2a03d"/></g>
<g transform="translate(43.4 403.2) rotate(-15.3)"><rect x="-0.5" y="-2.8" width="26.4" height="5.6" fill="#f9e58f"/><rect x="0.6" y="-1.0" width="23.8" height="3.0" fill="#f2a03d"/></g>
<g transform="translate(71.6 401.3) rotate(-10.9)"><rect x="-0.5" y="-2.8" width="33.3" height="5.6" fill="#f9e58f"/><rect x="0.6" y="-1.0" width="30.7" height="3.0" fill="#f2a03d"/></g>
<g transform="translate(105.8 395.8) rotate(0.0)"><rect x="-0.5" y="-2.8" width="26.7" height="5.6" fill="#f9e58f"/><rect x="0.6" y="-1.0" width="24.1" height="3.0" fill="#f2a03d"/></g>
<g transform="translate(40.4 396.5) rotate(-8.0)"><rect x="-0.5" y="-2.8" width="27.6" height="5.6" fill="#f9e58f"/><rect x="0.6" y="-1.0" width="25.0" height="3.0" fill="#f2a03d"/></g>
<g transform="translate(67.9 394.6) rotate(-4.5)"><rect x="-0.5" y="-2.8" width="39.0" height="5.6" fill="#f9e58f"/><rect x="0.6" y="-1.0" width="36.4" height="3.0" fill="#f2a03d"/></g>
<g transform="translate(85.0 388.5) rotate(6.9)"><rect x="-0.5" y="-2.8" width="31.8" height="5.6" fill="#f9e58f"/><rect x="0.6" y="-1.0" width="29.2" height="3.0" fill="#f2a03d"/></g>
<g transform="translate(115.6 390.3) rotate(-11.1)"><rect x="-0.5" y="-2.8" width="16.6" height="5.6" fill="#f9e58f"/><rect x="0.6" y="-1.0" width="14.0" height="3.0" fill="#f2a03d"/></g>
<g transform="translate(39.8 387.9) rotate(6.6)"><rect x="-0.5" y="-2.8" width="28.1" height="5.6" fill="#f9e58f"/><rect x="0.6" y="-1.0" width="25.5" height="3.0" fill="#f2a03d"/></g>
<g transform="translate(56.3 389.7) rotate(-11.5)"><rect x="-0.5" y="-2.8" width="46.5" height="5.6" fill="#f9e58f"/><rect x="0.6" y="-1.0" width="43.9" height="3.0" fill="#f2a03d"/></g>
<g transform="translate(108.2 383.0) rotate(-7.9)"><rect x="-0.5" y="-2.8" width="14.0" height="5.6" fill="#f9e58f"/><rect x="0.6" y="-1.0" width="11.4" height="3.0" fill="#f2a03d"/></g>
<g transform="translate(46.5 381.8) rotate(-2.6)"><rect x="-0.5" y="-2.8" width="55.5" height="5.6" fill="#f9e58f"/><rect x="0.6" y="-1.0" width="52.9" height="3.0" fill="#f2a03d"/></g>
<g transform="translate(100.9 378.7) rotate(-10.4)"><rect x="-0.5" y="-2.8" width="20.9" height="5.6" fill="#f9e58f"/><rect x="0.6" y="-1.0" width="18.3" height="3.0" fill="#f2a03d"/></g>
<g transform="translate(52.6 375.1) rotate(3.7)"><rect x="-0.5" y="-2.8" width="47.0" height="5.6" fill="#f9e58f"/><rect x="0.6" y="-1.0" width="44.4" height="3.0" fill="#f2a03d"/></g>
<g transform="translate(83.8 373.2) rotate(-9.3)"><rect x="-0.5" y="-2.8" width="23.3" height="5.6" fill="#f9e58f"/><rect x="0.6" y="-1.0" width="20.7" height="3.0" fill="#f2a03d"/></g>
<g transform="translate(76.5 371.4) rotate(-16.7)"><rect x="-0.5" y="-2.8" width="31.0" height="5.6" fill="#f9e58f"/><rect x="0.6" y="-1.0" width="28.4" height="3.0" fill="#f2a03d"/></g>
<g transform="translate(58.7 368.3) rotate(14.6)"><rect x="-0.5" y="-2.8" width="44.6" height="5.6" fill="#f9e58f"/><rect x="0.6" y="-1.0" width="42.0" height="3.0" fill="#f2a03d"/></g>
<clipPath id="cpur"><path d="M634.2,378.2 C638.6,377.8 642.8,379.1 646.7,381.3 C650.6,383.5 654.1,387.6 657.5,391.4 C660.9,395.2 663.8,399.8 666.9,403.9 C670.0,408.0 673.9,411.9 676.2,416.3 C678.6,420.7 681.5,425.9 681.0,430.3 C680.5,434.7 676.6,440.0 673.1,442.8 C669.6,445.6 664.7,446.2 660.0,447.0 C655.3,447.8 649.9,448.9 645.1,447.4 C640.3,445.9 635.5,442.0 631.1,438.1 C626.7,434.2 621.9,429.3 618.7,424.1 C615.5,418.9 612.6,411.9 611.7,407.0 C610.8,402.1 611.8,398.4 613.2,394.5 C614.6,390.6 616.7,386.4 620.2,383.7 C623.7,381.0 629.8,378.6 634.2,378.2Z"/></clipPath>
<path d="M634.2,378.2 C638.6,377.8 642.8,379.1 646.7,381.3 C650.6,383.5 654.1,387.6 657.5,391.4 C660.9,395.2 663.8,399.8 666.9,403.9 C670.0,408.0 673.9,411.9 676.2,416.3 C678.6,420.7 681.5,425.9 681.0,430.3 C680.5,434.7 676.6,440.0 673.1,442.8 C669.6,445.6 664.7,446.2 660.0,447.0 C655.3,447.8 649.9,448.9 645.1,447.4 C640.3,445.9 635.5,442.0 631.1,438.1 C626.7,434.2 621.9,429.3 618.7,424.1 C615.5,418.9 612.6,411.9 611.7,407.0 C610.8,402.1 611.8,398.4 613.2,394.5 C614.6,390.6 616.7,386.4 620.2,383.7 C623.7,381.0 629.8,378.6 634.2,378.2Z" fill="#7c4049"/>
<g clip-path="url(#cpur)"><path d="M634.2,378.2 C638.6,377.8 642.8,379.1 646.7,381.3 C650.6,383.5 654.1,387.6 657.5,391.4 C660.9,395.2 663.8,399.8 666.9,403.9 C670.0,408.0 673.9,411.9 676.2,416.3 C678.6,420.7 681.5,425.9 681.0,430.3 C680.5,434.7 676.6,440.0 673.1,442.8 C669.6,445.6 664.7,446.2 660.0,447.0 C655.3,447.8 649.9,448.9 645.1,447.4 C640.3,445.9 635.5,442.0 631.1,438.1 C626.7,434.2 621.9,429.3 618.7,424.1 C615.5,418.9 612.6,411.9 611.7,407.0 C610.8,402.1 611.8,398.4 613.2,394.5 C614.6,390.6 616.7,386.4 620.2,383.7 C623.7,381.0 629.8,378.6 634.2,378.2Z" fill="#9c5559" transform="translate(3.8 -2.2)"/></g>
<g transform="translate(625.7 391.7) rotate(-30) scale(1.25)"><path d="M0,-2.6 C1.7,-0.8 2,1.8 0,2 C-2,1.8 -1.7,-0.8 0,-2.6Z" fill="#fff"/><path d="M-1.8,0 C-1.6,2.2 1.6,2.2 1.8,0 C0.7,0.7 -0.7,0.7 -1.8,0Z" fill="#a9d47c"/></g>
<g transform="translate(649.8 392.2) rotate(-30) scale(1.25)"><path d="M0,-2.6 C1.7,-0.8 2,1.8 0,2 C-2,1.8 -1.7,-0.8 0,-2.6Z" fill="#fff"/><path d="M-1.8,0 C-1.6,2.2 1.6,2.2 1.8,0 C0.7,0.7 -0.7,0.7 -1.8,0Z" fill="#a9d47c"/></g>
<g transform="translate(633.9 413.2) rotate(-30) scale(1.25)"><path d="M0,-2.6 C1.7,-0.8 2,1.8 0,2 C-2,1.8 -1.7,-0.8 0,-2.6Z" fill="#fff"/><path d="M-1.8,0 C-1.6,2.2 1.6,2.2 1.8,0 C0.7,0.7 -0.7,0.7 -1.8,0Z" fill="#a9d47c"/></g>
<g transform="translate(654.0 409.0) rotate(-30) scale(1.25)"><path d="M0,-2.6 C1.7,-0.8 2,1.8 0,2 C-2,1.8 -1.7,-0.8 0,-2.6Z" fill="#fff"/><path d="M-1.8,0 C-1.6,2.2 1.6,2.2 1.8,0 C0.7,0.7 -0.7,0.7 -1.8,0Z" fill="#a9d47c"/></g>
<g transform="translate(651.8 432.2) rotate(-30) scale(1.25)"><path d="M0,-2.6 C1.7,-0.8 2,1.8 0,2 C-2,1.8 -1.7,-0.8 0,-2.6Z" fill="#fff"/><path d="M-1.8,0 C-1.6,2.2 1.6,2.2 1.8,0 C0.7,0.7 -0.7,0.7 -1.8,0Z" fill="#a9d47c"/></g>
<clipPath id="cyel"><path d="M705.8,402.3 C710.5,402.4 716.2,404.1 719.8,407.0 C723.4,409.9 726.1,415.5 727.5,419.4 C728.9,423.3 729.1,426.1 728.3,430.3 C727.5,434.5 726.1,439.6 722.9,444.3 C719.7,449.0 713.8,454.7 708.9,458.3 C704.0,461.9 698.5,464.5 693.3,466.1 C688.1,467.7 683.0,468.1 677.8,468.0 C672.6,467.9 666.9,466.9 662.2,465.3 C657.5,463.7 652.6,461.3 649.8,458.3 C647.0,455.3 645.6,450.8 645.6,447.4 C645.6,444.0 647.0,441.2 649.8,438.1 C652.6,435.0 657.5,432.4 662.2,428.8 C666.9,425.2 672.9,420.1 677.8,416.3 C682.7,412.5 687.1,408.5 691.8,406.2 C696.5,403.9 701.1,402.2 705.8,402.3Z"/></clipPath>
<path d="M705.8,402.3 C710.5,402.4 716.2,404.1 719.8,407.0 C723.4,409.9 726.1,415.5 727.5,419.4 C728.9,423.3 729.1,426.1 728.3,430.3 C727.5,434.5 726.1,439.6 722.9,444.3 C719.7,449.0 713.8,454.7 708.9,458.3 C704.0,461.9 698.5,464.5 693.3,466.1 C688.1,467.7 683.0,468.1 677.8,468.0 C672.6,467.9 666.9,466.9 662.2,465.3 C657.5,463.7 652.6,461.3 649.8,458.3 C647.0,455.3 645.6,450.8 645.6,447.4 C645.6,444.0 647.0,441.2 649.8,438.1 C652.6,435.0 657.5,432.4 662.2,428.8 C666.9,425.2 672.9,420.1 677.8,416.3 C682.7,412.5 687.1,408.5 691.8,406.2 C696.5,403.9 701.1,402.2 705.8,402.3Z" fill="#f4b248"/>
<g clip-path="url(#cyel)"><path d="M705.8,402.3 C710.5,402.4 716.2,404.1 719.8,407.0 C723.4,409.9 726.1,415.5 727.5,419.4 C728.9,423.3 729.1,426.1 728.3,430.3 C727.5,434.5 726.1,439.6 722.9,444.3 C719.7,449.0 713.8,454.7 708.9,458.3 C704.0,461.9 698.5,464.5 693.3,466.1 C688.1,467.7 683.0,468.1 677.8,468.0 C672.6,467.9 666.9,466.9 662.2,465.3 C657.5,463.7 652.6,461.3 649.8,458.3 C647.0,455.3 645.6,450.8 645.6,447.4 C645.6,444.0 647.0,441.2 649.8,438.1 C652.6,435.0 657.5,432.4 662.2,428.8 C666.9,425.2 672.9,420.1 677.8,416.3 C682.7,412.5 687.1,408.5 691.8,406.2 C696.5,403.9 701.1,402.2 705.8,402.3Z" fill="#fcc65c" transform="translate(1.2 -3.6)"/></g>
<g transform="translate(693.3 412.9) rotate(55) scale(1.25)"><path d="M0,-2.6 C1.7,-0.8 2,1.8 0,2 C-2,1.8 -1.7,-0.8 0,-2.6Z" fill="#fff"/><path d="M-1.8,0 C-1.6,2.2 1.6,2.2 1.8,0 C0.7,0.7 -0.7,0.7 -1.8,0Z" fill="#a9d47c"/></g>
<g transform="translate(717.0 419.4) rotate(55) scale(1.25)"><path d="M0,-2.6 C1.7,-0.8 2,1.8 0,2 C-2,1.8 -1.7,-0.8 0,-2.6Z" fill="#fff"/><path d="M-1.8,0 C-1.6,2.2 1.6,2.2 1.8,0 C0.7,0.7 -0.7,0.7 -1.8,0Z" fill="#a9d47c"/></g>
<g transform="translate(684.8 427.5) rotate(55) scale(1.25)"><path d="M0,-2.6 C1.7,-0.8 2,1.8 0,2 C-2,1.8 -1.7,-0.8 0,-2.6Z" fill="#fff"/><path d="M-1.8,0 C-1.6,2.2 1.6,2.2 1.8,0 C0.7,0.7 -0.7,0.7 -1.8,0Z" fill="#a9d47c"/></g>
<g transform="translate(702.6 437.3) rotate(55) scale(1.25)"><path d="M0,-2.6 C1.7,-0.8 2,1.8 0,2 C-2,1.8 -1.7,-0.8 0,-2.6Z" fill="#fff"/><path d="M-1.8,0 C-1.6,2.2 1.6,2.2 1.8,0 C0.7,0.7 -0.7,0.7 -1.8,0Z" fill="#a9d47c"/></g>
<g transform="translate(660.7 438.9) rotate(55) scale(1.25)"><path d="M0,-2.6 C1.7,-0.8 2,1.8 0,2 C-2,1.8 -1.7,-0.8 0,-2.6Z" fill="#fff"/><path d="M-1.8,0 C-1.6,2.2 1.6,2.2 1.8,0 C0.7,0.7 -0.7,0.7 -1.8,0Z" fill="#a9d47c"/></g>
<g transform="translate(678.2 451.3) rotate(55) scale(1.25)"><path d="M0,-2.6 C1.7,-0.8 2,1.8 0,2 C-2,1.8 -1.7,-0.8 0,-2.6Z" fill="#fff"/><path d="M-1.8,0 C-1.6,2.2 1.6,2.2 1.8,0 C0.7,0.7 -0.7,0.7 -1.8,0Z" fill="#a9d47c"/></g>
<g stroke="#fff" stroke-width="1.1" stroke-linejoin="round">
<path d="M237.40,352.60L295.85,303.56A76.3,76.3 0 1 1 161.64,343.57Z" fill="#f6921e"/>
<path d="M237.40,352.60L161.64,343.57A76.3,76.3 0 0 1 281.82,290.56Z" fill="#4f6b78"/>
<path d="M237.40,352.60L281.82,290.56A76.3,76.3 0 0 1 295.85,303.56Z" fill="#f2ea3b"/>
</g>
<g stroke="#fff" stroke-width="1.1" stroke-linejoin="round">
<path d="M507.70,353.30L507.70,429.80A76.5,76.5 0 1 1 531.34,280.54Z" fill="#9dcb3b"/>
<path d="M507.70,353.30L531.34,280.54A76.5,76.5 0 0 1 576.92,320.73Z" fill="#0066b3"/>
<path d="M507.70,353.30L576.92,320.73A76.5,76.5 0 0 1 507.70,429.80Z" fill="#f2ea3b"/>
</g>
<g stroke="#fff" stroke-width="1.1" stroke-linejoin="round">
<path d="M791.70,352.80L782.64,276.84A76.5,76.5 0 0 1 800.76,428.76Z" fill="#58585a"/>
<path d="M791.70,352.80L800.76,428.76A76.5,76.5 0 0 1 742.53,411.40Z" fill="#0066b3"/>
<path d="M791.70,352.80L742.53,411.40A76.5,76.5 0 0 1 716.66,337.94Z" fill="#f9cf13"/>
<path d="M791.70,352.80L716.66,337.94A76.5,76.5 0 0 1 739.72,296.67Z" fill="#f2ea3b"/>
<path d="M791.70,352.80L739.72,296.67A76.5,76.5 0 0 1 782.64,276.84Z" fill="#e01f26"/>
</g>
<clipPath id="c4"><rect x="820" y="260.2" width="74" height="31.5"/></clipPath>
<g fill="#fff" clip-path="url(#c4)">
<circle cx="882" cy="285.1" r="23.9"/>
<circle cx="853" cy="289.2" r="13.7"/>
<circle cx="835" cy="291.7" r="7"/>
<rect x="835.0" y="285.7" width="47.0" height="6.0"/>
</g>
<g transform="translate(424.4 422.8) rotate(-12.2)">
<path d="M-25.8,-24.5 L25.8,-24.5 C24.8,-8 24.8,8 25.8,24.5 L-25.8,24.5 C-24.8,8 -24.8,-8 -25.8,-24.5Z" fill="#f2ea3b"/>
<path d="M-26.0,-24 L-26.0,-32.3 L-24.14,-30.50 L-22.29,-32.30 L-20.43,-30.50 L-18.57,-32.30 L-16.71,-30.50 L-14.86,-32.30 L-13.00,-30.50 L-11.14,-32.30 L-9.29,-30.50 L-7.43,-32.30 L-5.57,-30.50 L-3.71,-32.30 L-1.86,-30.50 L0.00,-32.30 L1.86,-30.50 L3.71,-32.30 L5.57,-30.50 L7.43,-32.30 L9.29,-30.50 L11.14,-32.30 L13.00,-30.50 L14.86,-32.30 L16.71,-30.50 L18.57,-32.30 L20.43,-30.50 L22.29,-32.30 L24.14,-30.50 L26.00,-32.30 L26.0,-24Z" fill="#f6921e"/><path d="M-26.0,24 L-26.0,32.3 L-24.14,30.50 L-22.29,32.30 L-20.43,30.50 L-18.57,32.30 L-16.71,30.50 L-14.86,32.30 L-13.00,30.50 L-11.14,32.30 L-9.29,30.50 L-7.43,32.30 L-5.57,30.50 L-3.71,32.30 L-1.86,30.50 L0.00,32.30 L1.86,30.50 L3.71,32.30 L5.57,30.50 L7.43,32.30 L9.29,30.50 L11.14,32.30 L13.00,30.50 L14.86,32.30 L16.71,30.50 L18.57,32.30 L20.43,30.50 L22.29,32.30 L24.14,30.50 L26.00,32.30 L26.0,24Z" fill="#f6921e"/>
<text x="-21" y="0.9" font-size="12.5" font-weight="700" fill="#f6921e" stroke="#f6921e" stroke-width="0.3" textLength="39.5" lengthAdjust="spacingAndGlyphs">CRISPS</text>
</g>
<g stroke="#4d4d4f" stroke-width="1" fill="none"><path d="M727.4,286 V319.3 M727.3,295.3 H759.3 M727.3,312.3 H742.7"/></g>
<text x="14.97" y="286.5" font-size="22" fill="#4d4d4f" font-weight="700" textLength="125.93" lengthAdjust="spacingAndGlyphs">POTATOES</text>
<text x="293.13" y="287.2" font-size="10.5" fill="#4d4d4f" textLength="34.52" lengthAdjust="spacingAndGlyphs" stroke="#4d4d4f" stroke-width="0.22">OTHER</text>
<text x="302.74" y="297.4" font-size="10" fill="#4d4d4f" font-weight="700" textLength="15.44" lengthAdjust="spacingAndGlyphs" stroke="#4d4d4f" stroke-width="0.18">4%</text>
<text x="197.86" y="314.5" font-size="10.5" fill="#fff" textLength="45.98" lengthAdjust="spacingAndGlyphs" stroke="#fff" stroke-width="0.22">BELGIUM</text>
<text x="209.80" y="324.6" font-size="10" fill="#fff" font-weight="700" textLength="22.04" lengthAdjust="spacingAndGlyphs" stroke="#fff" stroke-width="0.18">33%</text>
<text x="197.88" y="391.0" font-size="10.5" fill="#fff" textLength="74.68" lengthAdjust="spacingAndGlyphs" stroke="#fff" stroke-width="0.22">NETHERLANDS</text>
<text x="223.84" y="401.2" font-size="10" fill="#fff" font-weight="700" textLength="22.20" lengthAdjust="spacingAndGlyphs" stroke="#fff" stroke-width="0.18">63%</text>
<text x="452.26" y="341.7" font-size="10.5" fill="#fff" textLength="44.23" lengthAdjust="spacingAndGlyphs" stroke="#fff" stroke-width="0.22">IRELAND</text>
<text x="463.91" y="351.9" font-size="10" fill="#fff" font-weight="700" textLength="22.13" lengthAdjust="spacingAndGlyphs" stroke="#fff" stroke-width="0.18">55%</text>
<text x="524.11" y="316.4" font-size="10.5" fill="#fff" textLength="42.93" lengthAdjust="spacingAndGlyphs" stroke="#fff" stroke-width="0.22">NON-EU</text>
<text x="534.41" y="326.2" font-size="10" fill="#fff" font-weight="700" textLength="21.98" lengthAdjust="spacingAndGlyphs" stroke="#fff" stroke-width="0.18">13%</text>
<text x="528.43" y="376.7" font-size="10.5" fill="#4d4d4f" textLength="35.04" lengthAdjust="spacingAndGlyphs" stroke="#4d4d4f" stroke-width="0.22">OTHER</text>
<text x="534.60" y="386.7" font-size="10" fill="#4d4d4f" font-weight="700" textLength="22.04" lengthAdjust="spacingAndGlyphs" stroke="#4d4d4f" stroke-width="0.18">32%</text>
<text x="639.93" y="292.9" font-size="10.5" fill="#4d4d4f" textLength="56.27" lengthAdjust="spacingAndGlyphs" stroke="#4d4d4f" stroke-width="0.22">MOROCCO</text>
<text x="699.74" y="292.9" font-size="10" fill="#4d4d4f" font-weight="700" textLength="21.04" lengthAdjust="spacingAndGlyphs" stroke="#4d4d4f" stroke-width="0.18">10%</text>
<text x="639.73" y="311.3" font-size="10.5" fill="#4d4d4f" textLength="55.26" lengthAdjust="spacingAndGlyphs" stroke="#4d4d4f" stroke-width="0.22">SPAIN AND</text>
<text x="639.90" y="320.9" font-size="10.5" fill="#4d4d4f" textLength="50.45" lengthAdjust="spacingAndGlyphs" stroke="#4d4d4f" stroke-width="0.22">CANARIES</text>
<text x="693.73" y="320.9" font-size="10" fill="#4d4d4f" font-weight="700" textLength="21.35" lengthAdjust="spacingAndGlyphs" stroke="#4d4d4f" stroke-width="0.18">10%</text>
<text x="811.50" y="348.3" font-size="10.5" fill="#fff" textLength="33.02" lengthAdjust="spacingAndGlyphs" stroke="#fff" stroke-width="0.22">EGYPT</text>
<text x="817.21" y="357.9" font-size="10" fill="#fff" font-weight="700" textLength="22.13" lengthAdjust="spacingAndGlyphs" stroke="#fff" stroke-width="0.18">50%</text>
<text x="729.54" y="369.9" font-size="10.5" fill="#4d4d4f" textLength="34.22" lengthAdjust="spacingAndGlyphs" stroke="#4d4d4f" stroke-width="0.22">OTHER</text>
<text x="735.51" y="379.9" font-size="10" fill="#4d4d4f" font-weight="700" textLength="21.98" lengthAdjust="spacingAndGlyphs" stroke="#4d4d4f" stroke-width="0.18">17%</text>
<text x="754.81" y="410.6" font-size="10.5" fill="#fff" textLength="42.72" lengthAdjust="spacingAndGlyphs" stroke="#fff" stroke-width="0.22">NON-EU</text>
<text x="765.51" y="420.6" font-size="10" fill="#fff" font-weight="700" textLength="21.98" lengthAdjust="spacingAndGlyphs" stroke="#fff" stroke-width="0.18">13%</text>
<text x="116.67" y="471.6" font-size="14.5" fill="#fff" textLength="237.02" lengthAdjust="spacingAndGlyphs">Frozen processed potato imports</text>
<text x="460.98" y="472.4" font-size="14.5" fill="#fff" textLength="94.70" lengthAdjust="spacingAndGlyphs">Crisp exports</text>
<text x="726.57" y="473.2" font-size="14.5" fill="#fff" textLength="144.01" lengthAdjust="spacingAndGlyphs">Seed potato exports</text>
</g>
<g clip-path="url(#p3)">
<rect x="4" y="506" width="678.1" height="234" fill="#dcf0f5"/>
<rect x="682.1" y="506" width="211.9" height="234" fill="#92d5dc"/>
<clipPath id="c5"><rect x="820" y="538.6" width="73" height="29.2"/></clipPath>
<g fill="#fff" clip-path="url(#c5)">
<circle cx="881.5" cy="560" r="20.4"/>
<circle cx="856.3" cy="566" r="13.8"/>
<circle cx="840.5" cy="567.8" r="6.8"/>
<rect x="840.5" y="562.0" width="41.0" height="5.8"/>
</g>
<g fill="#5cb546"><ellipse cx="19.9" cy="601.7" rx="5.4" ry="15"/><rect x="19" y="612" width="2" height="12"/><ellipse cx="36.1" cy="594" rx="7" ry="19.6"/><rect x="34.6" y="608" width="2.5" height="16"/></g>
<rect x="878.5" y="590.4" width="1.5" height="33.6" fill="#5cb546"/>
<g transform="translate(879.3 612.3) rotate(-139.5)"><path d="M1,0 C3.0,-3.6 9.5,-3.6 11.8,0 C9.5,3.2 3.6,3.6 1,0Z" fill="#cfe5b0"/><rect x="0" y="-0.65" width="6.9" height="1.3" rx="0.65" fill="#5cb546"/></g>
<g transform="translate(879.3 608.8) rotate(-38.8)"><path d="M1,0 C3.1,-3.6 10.0,-3.6 12.4,0 C10.0,3.2 3.7,3.6 1,0Z" fill="#cfe5b0"/><rect x="0" y="-0.65" width="7.2" height="1.3" rx="0.65" fill="#5cb546"/></g>
<g transform="translate(879.3 590.4)"><circle r="3.4" fill="#f8e63c"/>
<path transform="rotate(0)" d="M0,-0.5 C-1.3,-3 -2.8,-5 -2.6,-7.6 C-2.4,-9.7 -1,-10.2 0,-10.2 C1,-10.2 2.4,-9.7 2.6,-7.6 C2.8,-5 1.3,-3 0,-0.5Z" fill="#f8e63c" stroke="#f1d12a" stroke-width="0.8"/>
<path transform="rotate(60)" d="M0,-0.5 C-1.3,-3 -2.8,-5 -2.6,-7.6 C-2.4,-9.7 -1,-10.2 0,-10.2 C1,-10.2 2.4,-9.7 2.6,-7.6 C2.8,-5 1.3,-3 0,-0.5Z" fill="#f8e63c" stroke="#f1d12a" stroke-width="0.8"/>
<path transform="rotate(120)" d="M0,-0.5 C-1.3,-3 -2.8,-5 -2.6,-7.6 C-2.4,-9.7 -1,-10.2 0,-10.2 C1,-10.2 2.4,-9.7 2.6,-7.6 C2.8,-5 1.3,-3 0,-0.5Z" fill="#f8e63c" stroke="#f1d12a" stroke-width="0.8"/>
<path transform="rotate(180)" d="M0,-0.5 C-1.3,-3 -2.8,-5 -2.6,-7.6 C-2.4,-9.7 -1,-10.2 0,-10.2 C1,-10.2 2.4,-9.7 2.6,-7.6 C2.8,-5 1.3,-3 0,-0.5Z" fill="#f8e63c" stroke="#f1d12a" stroke-width="0.8"/>
<path transform="rotate(240)" d="M0,-0.5 C-1.3,-3 -2.8,-5 -2.6,-7.6 C-2.4,-9.7 -1,-10.2 0,-10.2 C1,-10.2 2.4,-9.7 2.6,-7.6 C2.8,-5 1.3,-3 0,-0.5Z" fill="#f8e63c" stroke="#f1d12a" stroke-width="0.8"/>
<path transform="rotate(300)" d="M0,-0.5 C-1.3,-3 -2.8,-5 -2.6,-7.6 C-2.4,-9.7 -1,-10.2 0,-10.2 C1,-10.2 2.4,-9.7 2.6,-7.6 C2.8,-5 1.3,-3 0,-0.5Z" fill="#f8e63c" stroke="#f1d12a" stroke-width="0.8"/>
<rect transform="rotate(0)" x="-0.5" y="-6.3" width="1" height="6.3" fill="#f6921e"/>
<rect transform="rotate(60)" x="-0.5" y="-6.3" width="1" height="6.3" fill="#f6921e"/>
<rect transform="rotate(120)" x="-0.5" y="-6.3" width="1" height="6.3" fill="#f6921e"/>
<rect transform="rotate(180)" x="-0.5" y="-6.3" width="1" height="6.3" fill="#f6921e"/>
<rect transform="rotate(240)" x="-0.5" y="-6.3" width="1" height="6.3" fill="#f6921e"/>
<rect transform="rotate(300)" x="-0.5" y="-6.3" width="1" height="6.3" fill="#f6921e"/>
<circle r="2.5" fill="#f6921e"/></g>
<path d="M4.0,621.0 C11.7,621.5 34.0,622.5 50.0,623.7 C66.0,624.9 85.5,626.6 100.0,628.0 C114.5,629.4 120.3,631.7 137.0,632.0 C153.7,632.3 174.5,631.8 200.0,630.0 C225.5,628.2 266.2,622.5 290.0,621.3 C313.8,620.1 324.7,621.2 343.0,622.7 C361.3,624.2 382.2,628.0 400.0,630.0 C417.8,632.0 435.5,633.9 450.0,634.5 C464.5,635.1 474.8,634.8 487.0,633.5 C499.2,632.2 507.5,628.6 523.0,626.5 C538.5,624.4 559.8,621.7 580.0,621.0 C600.2,620.3 629.8,621.8 644.0,622.2 C658.2,622.6 658.7,623.0 665.0,623.6 C671.3,624.2 674.2,624.9 682.0,625.8 C689.8,626.7 694.0,628.6 712.0,628.8 C730.0,629.0 764.3,628.1 790.0,627.0 C815.7,625.9 848.7,623.4 866.0,622.4 C883.3,621.4 889.3,621.1 894.0,620.8 L894,741 L4,741Z" fill="#5cb546"/>
<path d="M61.5,646.8 C67,644 75,646 78,650.6 C73,653.5 65,652.5 61.5,646.8Z" fill="#5a9e3f"/>
<circle cx="41" cy="642.2" r="5.2" fill="#7163b5"/>
<circle cx="50.7" cy="644.2" r="5.2" fill="#9278b5"/>
<circle cx="35" cy="650.6" r="5.2" fill="#5c3d7a"/>
<circle cx="44.7" cy="651.4" r="5.2" fill="#7163b5"/>
<circle cx="54.4" cy="651.4" r="5.2" fill="#7163b5"/>
<circle cx="30.7" cy="660.3" r="5.2" fill="#7163b5"/>
<circle cx="40.4" cy="659.5" r="5.2" fill="#9278b5"/>
<circle cx="49.6" cy="660" r="5.2" fill="#5c3d7a"/>
<circle cx="59.3" cy="658.7" r="5.2" fill="#5c3d7a"/>
<circle cx="27" cy="667.9" r="5.2" fill="#9278b5"/>
<circle cx="36.3" cy="668.7" r="5.2" fill="#5c3d7a"/>
<circle cx="45.5" cy="668.4" r="5.2" fill="#7163b5"/>
<circle cx="55.2" cy="667.1" r="5.2" fill="#9278b5"/>
<path d="M56,649.3 C60,647 63.5,642.5 64.6,637.9" stroke="#4a1f2d" stroke-width="1.9" fill="none" stroke-linecap="round"/>
<g>
<path d="M296.4,696.8 L301,696.8 C301.2,701.2 303.2,704.2 309.4,706.8 C313,708.6 315.2,711 315.2,714.4 C315.2,719.6 308,723.4 298.7,723.4 C289.4,723.4 282.1,719.6 282.1,714.4 C282.1,711 284.4,708.6 288,706.8 C294.2,704.2 296.2,701.2 296.4,696.8Z" fill="#9a2f3f"/>
<path d="M297,697.5 L300.4,697.5 C301.2,705 308.8,708 308.8,714.5 C308.8,719.5 304.5,723.2 298.7,723.2 C292.9,723.2 289,719.5 289,714.5 C289,708 296.2,705 297,697.5Z" fill="#85233a"/>
<path d="M298.7,698.6 C300.5,705 303.2,708.5 303.2,714.5 C303.2,719.5 301.3,723 298.7,723 C296.1,723 294.2,719.5 294.2,714.5 C294.2,708.5 296.9,705 298.7,698.6Z" fill="#a84e5f"/>
<path d="M296,723.3 L295.2,725.6 M298.6,723.4 L298.5,726.4 M301.2,723.3 L302,725.6" stroke="#c6693a" stroke-width="0.7" fill="none"/>
</g>
<rect x="559.0" y="709.0" width="3" height="32.0" fill="#9dcb3b"/>
<g transform="translate(559.5 735.5) rotate(-142.9)"><path d="M1,0 C6.4,-9.0 20.6,-9.0 25.7,0 C20.6,8.1 7.7,9.0 1,0Z" fill="#d1e6b0"/><rect x="0" y="-1.3" width="14.9" height="2.6" rx="1.3" fill="#9dcb3b"/></g>
<g transform="translate(561.5 728.5) rotate(-38.3)"><path d="M1,0 C6.9,-9.0 21.9,-9.0 27.4,0 C21.9,8.1 8.2,9.0 1,0Z" fill="#d1e6b0"/><rect x="0" y="-1.3" width="15.9" height="2.6" rx="1.3" fill="#9dcb3b"/></g>
<path d="M551.5,675.6 L560.5,681.3 L569.5,675.6 L569.8,693.3 L551.2,693.3Z" fill="#f7b27a"/>
<path d="M551.5,675.6 L560.5,681.3 L557.4,689.8 L551.2,686.2Z" fill="#f9c9a0"/>
<path d="M545.0,679.1 C552.8,683.4 559.7,686.2 562.0,690.5 L565.1,710.3 C555.9,711.7 544.7,707.5 545.0,695.1Z" fill="#f7a552"/>
<path d="M576.0,679.1 C563.6,685.5 555.1,695.1 555.9,703.2 C556.6,710.3 562.0,711.0 563.6,711.0 C572.9,711.0 576.3,705.7 576.0,695.1Z" fill="#f6921e"/>
<rect x="611.0" y="709.6" width="3" height="31.4" fill="#9dcb3b"/>
<g transform="translate(611.5 735.0) rotate(-141.0)"><path d="M1,0 C6.0,-8.5 19.1,-8.5 23.8,0 C19.1,7.7 7.1,8.5 1,0Z" fill="#d1e6b0"/><rect x="0" y="-1.3" width="13.8" height="2.6" rx="1.3" fill="#9dcb3b"/></g>
<g transform="translate(613.5 728.0) rotate(-39.4)"><path d="M1,0 C6.5,-8.5 20.8,-8.5 26.0,0 C20.8,7.7 7.8,8.5 1,0Z" fill="#d1e6b0"/><rect x="0" y="-1.3" width="15.1" height="2.6" rx="1.3" fill="#9dcb3b"/></g>
<path d="M604.1,679.0 L612.5,684.2 L620.9,679.0 L621.2,695.3 L603.8,695.3Z" fill="#f7b27a"/>
<path d="M604.1,679.0 L612.5,684.2 L609.6,692.0 L603.8,688.8Z" fill="#f9c9a0"/>
<path d="M598.0,682.3 C605.2,686.2 611.8,688.8 614.0,692.7 L616.9,710.9 C608.1,712.3 597.7,708.3 598.0,696.9Z" fill="#f7a552"/>
<path d="M627.0,682.3 C615.4,688.1 607.4,696.9 608.1,704.4 C608.9,710.9 614.0,711.6 615.4,711.6 C624.1,711.6 627.3,706.7 627.0,696.9Z" fill="#f6921e"/>
<rect x="658.5" y="685.6" width="2.4" height="55.4" fill="#9dcb3b"/>
<g transform="translate(658.8 708.0) rotate(-141.2)"><path d="M1,0 C5.4,-7.3 17.2,-7.3 21.6,0 C17.2,6.6 6.5,7.3 1,0Z" fill="#d1e6b0"/><rect x="0" y="-1.3" width="12.5" height="2.6" rx="1.3" fill="#9dcb3b"/></g>
<g transform="translate(660.6 702.0) rotate(-39.2)"><path d="M1,0 C5.7,-7.3 18.4,-7.3 23.0,0 C18.4,6.6 6.9,7.3 1,0Z" fill="#d1e6b0"/><rect x="0" y="-1.3" width="13.3" height="2.6" rx="1.3" fill="#9dcb3b"/></g>
<path d="M652.3,658.4 L659.7,663.1 L667.1,658.4 L667.3,673.0 L652.1,673.0Z" fill="#f7b27a"/>
<path d="M652.3,658.4 L659.7,663.1 L657.2,670.1 L652.1,667.2Z" fill="#f9c9a0"/>
<path d="M647.0,661.3 C653.4,664.8 659.1,667.2 661.0,670.7 L663.5,687.0 C655.9,688.2 646.7,684.7 647.0,674.5Z" fill="#f7a552"/>
<path d="M672.4,661.3 C662.2,666.6 655.3,674.5 655.9,681.2 C656.5,687.0 661.0,687.6 662.2,687.6 C669.9,687.6 672.7,683.2 672.4,674.5Z" fill="#f6921e"/>
<rect x="688.9" y="708.6" width="1.5" height="32.4" fill="#9dcb3b"/>
<g transform="translate(689.6 731.0) rotate(-139.6)"><path d="M1,0 C3.1,-3.6 9.9,-3.6 12.3,0 C9.9,3.2 3.7,3.6 1,0Z" fill="#cfe5b0"/><rect x="0" y="-0.65" width="7.2" height="1.3" rx="0.65" fill="#9dcb3b"/></g>
<g transform="translate(689.6 727.5) rotate(-38.6)"><path d="M1,0 C3.3,-3.6 10.6,-3.6 13.3,0 C10.6,3.2 4.0,3.6 1,0Z" fill="#cfe5b0"/><rect x="0" y="-0.65" width="7.7" height="1.3" rx="0.65" fill="#9dcb3b"/></g>
<g transform="translate(689.6 708.6)"><circle r="3.4" fill="#f8e63c"/>
<path transform="rotate(0)" d="M0,-0.5 C-1.3,-3 -2.8,-5 -2.6,-7.6 C-2.4,-9.7 -1,-10.0 0,-10.0 C1,-10.0 2.4,-9.7 2.6,-7.6 C2.8,-5 1.3,-3 0,-0.5Z" fill="#f8e63c" stroke="#f1d12a" stroke-width="0.8"/>
<path transform="rotate(60)" d="M0,-0.5 C-1.3,-3 -2.8,-5 -2.6,-7.6 C-2.4,-9.7 -1,-10.0 0,-10.0 C1,-10.0 2.4,-9.7 2.6,-7.6 C2.8,-5 1.3,-3 0,-0.5Z" fill="#f8e63c" stroke="#f1d12a" stroke-width="0.8"/>
<path transform="rotate(120)" d="M0,-0.5 C-1.3,-3 -2.8,-5 -2.6,-7.6 C-2.4,-9.7 -1,-10.0 0,-10.0 C1,-10.0 2.4,-9.7 2.6,-7.6 C2.8,-5 1.3,-3 0,-0.5Z" fill="#f8e63c" stroke="#f1d12a" stroke-width="0.8"/>
<path transform="rotate(180)" d="M0,-0.5 C-1.3,-3 -2.8,-5 -2.6,-7.6 C-2.4,-9.7 -1,-10.0 0,-10.0 C1,-10.0 2.4,-9.7 2.6,-7.6 C2.8,-5 1.3,-3 0,-0.5Z" fill="#f8e63c" stroke="#f1d12a" stroke-width="0.8"/>
<path transform="rotate(240)" d="M0,-0.5 C-1.3,-3 -2.8,-5 -2.6,-7.6 C-2.4,-9.7 -1,-10.0 0,-10.0 C1,-10.0 2.4,-9.7 2.6,-7.6 C2.8,-5 1.3,-3 0,-0.5Z" fill="#f8e63c" stroke="#f1d12a" stroke-width="0.8"/>
<path transform="rotate(300)" d="M0,-0.5 C-1.3,-3 -2.8,-5 -2.6,-7.6 C-2.4,-9.7 -1,-10.0 0,-10.0 C1,-10.0 2.4,-9.7 2.6,-7.6 C2.8,-5 1.3,-3 0,-0.5Z" fill="#f8e63c" stroke="#f1d12a" stroke-width="0.8"/>
<rect transform="rotate(0)" x="-0.5" y="-6.3" width="1" height="6.3" fill="#f6921e"/>
<rect transform="rotate(60)" x="-0.5" y="-6.3" width="1" height="6.3" fill="#f6921e"/>
<rect transform="rotate(120)" x="-0.5" y="-6.3" width="1" height="6.3" fill="#f6921e"/>
<rect transform="rotate(180)" x="-0.5" y="-6.3" width="1" height="6.3" fill="#f6921e"/>
<rect transform="rotate(240)" x="-0.5" y="-6.3" width="1" height="6.3" fill="#f6921e"/>
<rect transform="rotate(300)" x="-0.5" y="-6.3" width="1" height="6.3" fill="#f6921e"/>
<circle r="2.5" fill="#f6921e"/></g>
<g stroke="#fff" stroke-width="1.1" stroke-linejoin="round">
<path d="M214.30,648.00L234.25,721.96A76.6,76.6 0 0 1 161.19,592.81Z" fill="#0066b3"/>
<path d="M214.30,648.00L161.19,592.81A76.6,76.6 0 0 1 241.63,576.44Z" fill="#f9cf13"/>
<path d="M214.30,648.00L241.63,576.44A76.6,76.6 0 0 1 276.82,692.26Z" fill="#f2ea3b"/>
<path d="M214.30,648.00L276.82,692.26A76.6,76.6 0 0 1 234.25,721.96Z" fill="#9dcb3b"/>
</g>
<g stroke="#fff" stroke-width="1.1" stroke-linejoin="round">
<path d="M420.10,590.80L400.87,516.96A76.3,76.3 0 0 1 495.76,580.97Z" fill="#f9cf13"/>
<path d="M420.10,590.80L495.76,580.97A76.3,76.3 0 0 1 420.10,667.10Z" fill="#f2ea3b"/>
<path d="M420.10,590.80L420.10,667.10A76.3,76.3 0 0 1 344.40,600.36Z" fill="#f6921e"/>
<path d="M420.10,590.80L344.40,600.36A76.3,76.3 0 0 1 400.87,516.96Z" fill="#0066b3"/>
</g>
<g stroke="#fff" stroke-width="1.1" stroke-linejoin="round">
<path d="M583.20,600.30L629.65,560.76A61,61 0 1 1 543.66,553.85Z" fill="#f6921e"/>
<path d="M583.20,600.30L543.66,553.85A61,61 0 0 1 629.65,560.76Z" fill="#f2ea3b"/>
</g>
<g stroke="#fff" stroke-width="1.1" stroke-linejoin="round">
<path d="M788.50,625.00L783.69,548.55A76.6,76.6 0 1 1 788.50,701.60Z" fill="#f2ea3b"/>
<path d="M788.50,625.00L788.50,701.60A76.6,76.6 0 0 1 726.53,579.98Z" fill="#9dcb3b"/>
<path d="M788.50,625.00L726.53,579.98A76.6,76.6 0 0 1 783.69,548.55Z" fill="#0066b3"/>
</g>
<text x="9.99" y="540.0" font-size="22" fill="#4d4d4f" font-weight="700" textLength="325.89" lengthAdjust="spacingAndGlyphs">HORTICULTURAL PRODUCTS</text>
<text x="10.51" y="556.7" font-size="14.5" fill="#4d4d4f" textLength="214.31" lengthAdjust="spacingAndGlyphs">Minimal exports, some re-exports</text>
<text x="28.45" y="707.3" font-size="30" fill="#fff" font-weight="700" textLength="165.38" lengthAdjust="spacingAndGlyphs" stroke="#fff" stroke-width="0.7">3,700,000</text>
<text x="63.83" y="721.6" font-size="11.5" fill="#fff" textLength="80.19" lengthAdjust="spacingAndGlyphs">fruit imports, t/y</text>
<text x="335.41" y="706.3" font-size="30" fill="#fff" font-weight="700" textLength="165.41" lengthAdjust="spacingAndGlyphs" stroke="#fff" stroke-width="0.7">2,500,000</text>
<text x="356.66" y="721.6" font-size="11.5" fill="#fff" textLength="109.06" lengthAdjust="spacingAndGlyphs">vegetable imports, t/y</text>
<text x="512.48" y="530.5" font-size="12" fill="#4d4d4f" textLength="144.23" lengthAdjust="spacingAndGlyphs">Plants and cut flower imports</text>
<text x="690.90" y="530.0" font-size="14.5" fill="#fff" textLength="183.53" lengthAdjust="spacingAndGlyphs">Horticultural product exports</text>
<text x="719.62" y="721.8" font-size="12" fill="#fff" textLength="137.40" lengthAdjust="spacingAndGlyphs">Narcissus bulbs: mainly USA</text>
<text x="190.54" y="600.9" font-size="10.5" fill="#4d4d4f" textLength="30.28" lengthAdjust="spacingAndGlyphs" stroke="#4d4d4f" stroke-width="0.22">SPAIN</text>
<text x="194.51" y="610.9" font-size="10" fill="#4d4d4f" font-weight="700" textLength="21.98" lengthAdjust="spacingAndGlyphs" stroke="#4d4d4f" stroke-width="0.18">18%</text>
<text x="244.54" y="638.9" font-size="10.5" fill="#4d4d4f" textLength="34.22" lengthAdjust="spacingAndGlyphs" stroke="#4d4d4f" stroke-width="0.22">OTHER</text>
<text x="250.57" y="649.3" font-size="10" fill="#4d4d4f" font-weight="700" textLength="22.18" lengthAdjust="spacingAndGlyphs" stroke="#4d4d4f" stroke-width="0.18">29%</text>
<text x="152.43" y="654.3" font-size="10.5" fill="#fff" textLength="41.68" lengthAdjust="spacingAndGlyphs" stroke="#fff" stroke-width="0.22">NON-EU</text>
<text x="162.38" y="663.9" font-size="10" fill="#fff" font-weight="700" textLength="21.96" lengthAdjust="spacingAndGlyphs" stroke="#fff" stroke-width="0.18">42%</text>
<text x="231.95" y="689.2" font-size="9" fill="#fff" textLength="26.98" lengthAdjust="spacingAndGlyphs" stroke="#fff" stroke-width="0.22">SOUTH</text>
<text x="231.69" y="696.1" font-size="9" fill="#fff" textLength="27.63" lengthAdjust="spacingAndGlyphs" stroke="#fff" stroke-width="0.22">AFRICA</text>
<text x="235.04" y="705.9" font-size="10" fill="#fff" font-weight="700" textLength="20.93" lengthAdjust="spacingAndGlyphs" stroke="#fff" stroke-width="0.18">11%</text>
<text x="431.84" y="550.9" font-size="10.5" fill="#4d4d4f" textLength="30.70" lengthAdjust="spacingAndGlyphs" stroke="#4d4d4f" stroke-width="0.22">SPAIN</text>
<text x="436.17" y="560.8" font-size="10" fill="#4d4d4f" font-weight="700" textLength="22.18" lengthAdjust="spacingAndGlyphs" stroke="#4d4d4f" stroke-width="0.18">27%</text>
<text x="356.82" y="567.6" font-size="10.5" fill="#fff" textLength="42.31" lengthAdjust="spacingAndGlyphs" stroke="#fff" stroke-width="0.22">NON-EU</text>
<text x="367.17" y="577.6" font-size="10" fill="#fff" font-weight="700" textLength="22.18" lengthAdjust="spacingAndGlyphs" stroke="#fff" stroke-width="0.18">23%</text>
<text x="351.97" y="616.6" font-size="10" fill="#fff" textLength="66.14" lengthAdjust="spacingAndGlyphs" stroke="#fff" stroke-width="0.22">NETHERLANDS</text>
<text x="374.57" y="626.6" font-size="10" fill="#fff" font-weight="700" textLength="22.18" lengthAdjust="spacingAndGlyphs" stroke="#fff" stroke-width="0.18">23%</text>
<text x="441.22" y="620.9" font-size="10.5" fill="#4d4d4f" textLength="35.24" lengthAdjust="spacingAndGlyphs" stroke="#4d4d4f" stroke-width="0.22">OTHER</text>
<text x="447.87" y="630.9" font-size="10" fill="#4d4d4f" font-weight="700" textLength="22.18" lengthAdjust="spacingAndGlyphs" stroke="#4d4d4f" stroke-width="0.18">27%</text>
<text x="568.13" y="565.8" font-size="10.5" fill="#4d4d4f" textLength="35.04" lengthAdjust="spacingAndGlyphs" stroke="#4d4d4f" stroke-width="0.22">OTHER</text>
<text x="574.97" y="575.5" font-size="10" fill="#4d4d4f" font-weight="700" textLength="22.18" lengthAdjust="spacingAndGlyphs" stroke="#4d4d4f" stroke-width="0.18">25%</text>
<text x="544.48" y="625.2" font-size="10.5" fill="#fff" textLength="74.58" lengthAdjust="spacingAndGlyphs" stroke="#fff" stroke-width="0.22">NETHERLANDS</text>
<text x="571.07" y="635.1" font-size="10" fill="#fff" font-weight="700" textLength="22.27" lengthAdjust="spacingAndGlyphs" stroke="#fff" stroke-width="0.18">75%</text>
<text x="740.61" y="579.9" font-size="10.5" fill="#fff" textLength="42.93" lengthAdjust="spacingAndGlyphs" stroke="#fff" stroke-width="0.22">NON-EU</text>
<text x="751.11" y="590.1" font-size="10" fill="#fff" font-weight="700" textLength="21.98" lengthAdjust="spacingAndGlyphs" stroke="#fff" stroke-width="0.18">14%</text>
<text x="808.62" y="623.9" font-size="10.5" fill="#4d4d4f" textLength="35.14" lengthAdjust="spacingAndGlyphs" stroke="#4d4d4f" stroke-width="0.22">OTHER</text>
<text x="814.91" y="634.2" font-size="10" fill="#4d4d4f" font-weight="700" textLength="22.13" lengthAdjust="spacingAndGlyphs" stroke="#4d4d4f" stroke-width="0.18">51%</text>
<text x="724.35" y="642.1" font-size="10.5" fill="#fff" textLength="44.44" lengthAdjust="spacingAndGlyphs" stroke="#fff" stroke-width="0.22">IRELAND</text>
<text x="736.00" y="652.3" font-size="10" fill="#fff" font-weight="700" textLength="22.04" lengthAdjust="spacingAndGlyphs" stroke="#fff" stroke-width="0.18">35%</text>
</g>
</svg></body></html>
